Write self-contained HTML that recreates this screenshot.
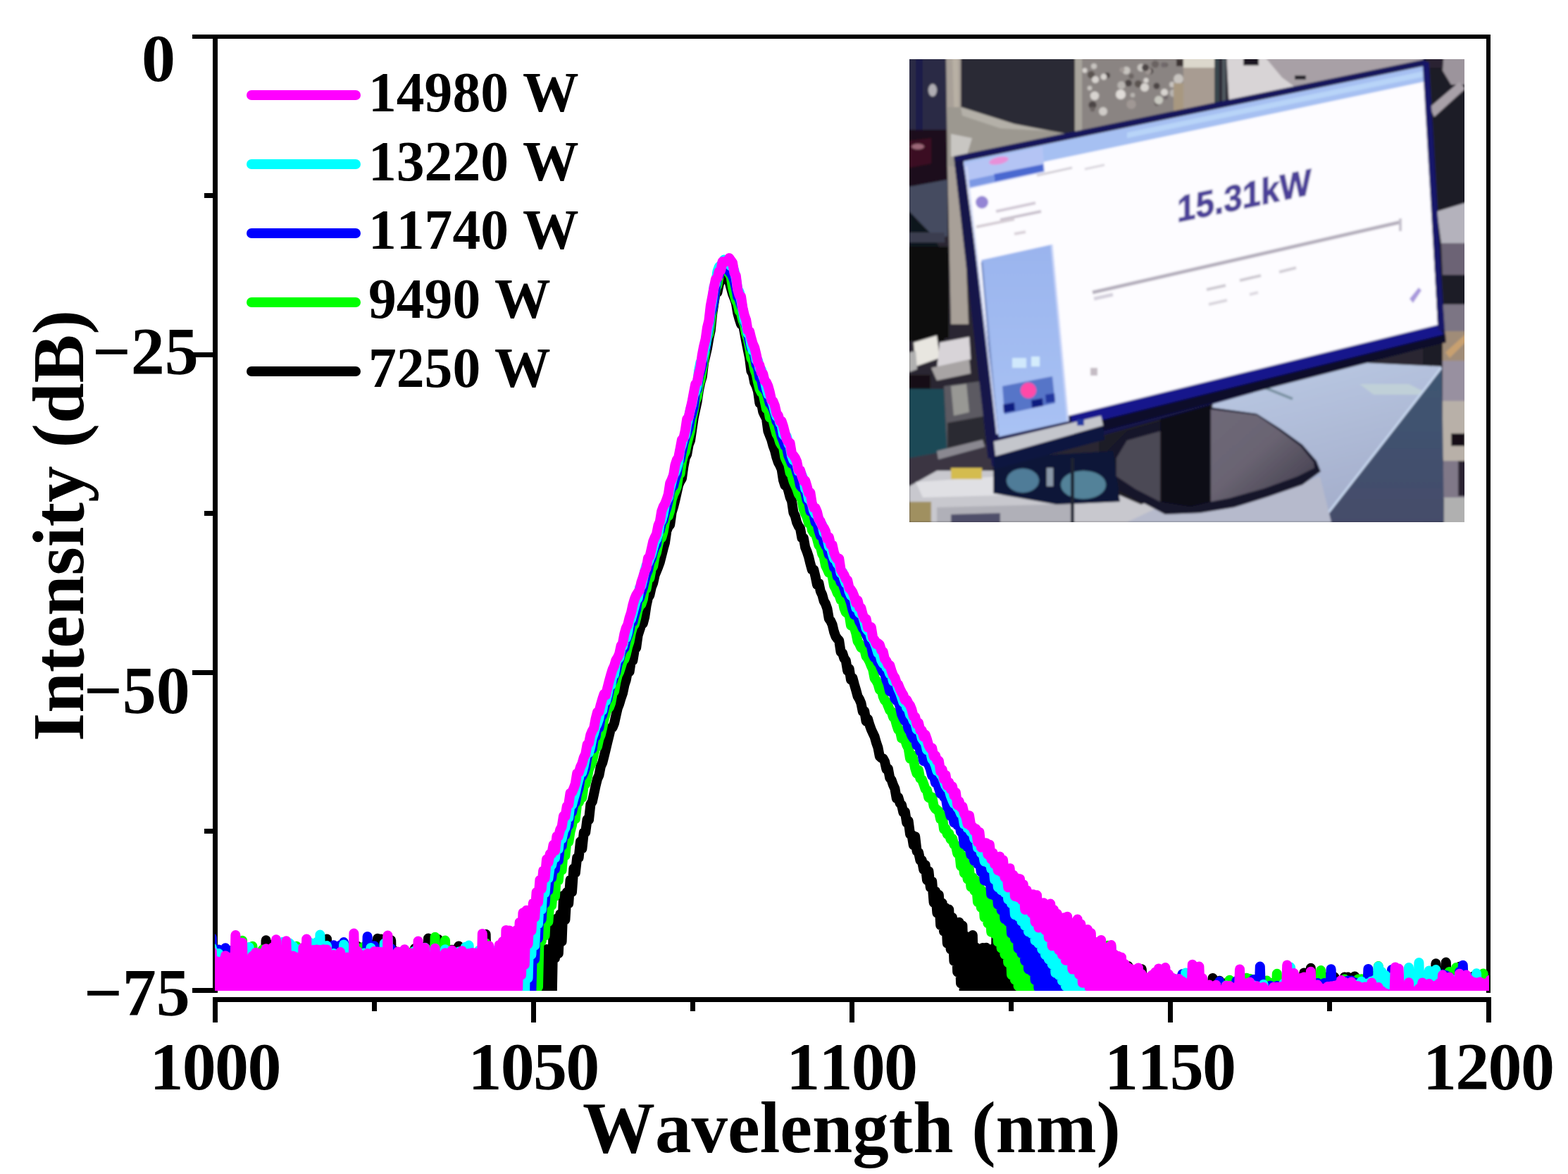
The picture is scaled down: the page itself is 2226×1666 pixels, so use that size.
<!DOCTYPE html>
<html lang="en"><head><meta charset="utf-8"><title>Spectrum</title>
<style>
html,body{margin:0;padding:0;background:#fff;}
body{width:2226px;height:1666px;overflow:hidden;}
svg{display:block;}
.t{font-family:"Liberation Serif","DejaVu Serif",serif;font-weight:bold;fill:#000;font-kerning:none;}
</style></head>
<body>
<svg width="2226" height="1666" viewBox="0 0 2226 1666">
<rect width="2226" height="1666" fill="#fff"/>
<defs>
<clipPath id="phc"><rect x="1291" y="84" width="788" height="657"/></clipPath>
<filter id="phb" x="-5%" y="-5%" width="110%" height="110%"><feGaussianBlur stdDeviation="1.6"/></filter>
<filter id="phb2" x="-20%" y="-20%" width="140%" height="140%"><feGaussianBlur stdDeviation="3"/></filter>
<linearGradient id="gbase" x1="0" y1="0" x2="1" y2="1"><stop offset="0" stop-color="#6e6878"/><stop offset="0.45" stop-color="#6a6472"/><stop offset="1" stop-color="#3e3a4a"/></linearGradient>
<linearGradient id="gtable" x1="0" y1="0" x2="0.4" y2="1"><stop offset="0" stop-color="#bccbe6"/><stop offset="1" stop-color="#a4aecb"/></linearGradient>
<linearGradient id="gside" x1="0" y1="0" x2="0" y2="1"><stop offset="0" stop-color="#3d5572"/><stop offset="1" stop-color="#454c6a"/></linearGradient>
<linearGradient id="gpanel" x1="0" y1="0" x2="0" y2="1"><stop offset="0" stop-color="#9ab4ee"/><stop offset="1" stop-color="#a9c2f4"/></linearGradient>
</defs>
<g clip-path="url(#phc)">
<g filter="url(#phb)">
<rect x="1281" y="74" width="808" height="677" fill="#2a2832"/>
<rect x="1281" y="74" width="64" height="120" fill="#2b2c44"/>
<rect x="1300" y="84" width="10" height="100" fill="#1a1d4a"/>
<rect x="1281" y="184" width="64" height="80" fill="#1c0f1c"/>
<polygon points="1291,200 1322,196 1322,232 1291,238" fill="#3a1020"/>
<ellipse cx="1303" cy="208" rx="9" ry="4" fill="#9c6878"/>
<polygon points="1291,265 1345,255 1345,335 1291,350" fill="#454c60"/>
<polygon points="1291,300 1320,330 1340,360 1291,370" fill="#10141e"/>
<rect x="1281" y="350" width="66" height="130" fill="#0a0810"/>
<rect x="1291" y="330" width="50" height="14" fill="#3a3c50"/>
<ellipse cx="1324" cy="128" rx="6" ry="9" fill="#b0aeb4"/>
<polygon points="1343,74 1364,74 1366,230 1375,460 1350,460 1345,230" fill="#a8a098"/>
<polygon points="1352,74 1360,74 1362,220 1356,220" fill="#b8b0a4"/>
<polygon points="1364,74 1526,74 1526,192 1440,176 1364,152" fill="#2c2a36"/>
<polygon points="1345,152 1364,152 1440,176 1526,192 1526,200 1358,236 1345,236" fill="#9c9890"/>
<polygon points="1350,190 1380,196 1372,222 1350,222" fill="#c8c6c2"/>
<polygon points="1364,152 1440,176 1490,186 1420,182 1366,164" fill="#b4b0a8"/>
<rect x="1526" y="74" width="200" height="140" fill="#8a8482"/>
<rect x="1526" y="74" width="10" height="120" fill="#a8a49c"/>
<circle cx="1599" cy="100" r="5.6" fill="#c8c4c0"/>
<circle cx="1689" cy="94" r="5.3" fill="#6a6462"/>
<circle cx="1547" cy="125" r="3.3" fill="#c8c4c0"/>
<circle cx="1640" cy="91" r="5.3" fill="#6a6462"/>
<circle cx="1655" cy="138" r="3.2" fill="#70686a"/>
<circle cx="1549" cy="106" r="5.2" fill="#5a5250"/>
<circle cx="1593" cy="99" r="3.5" fill="#a09894"/>
<circle cx="1642" cy="147" r="3.4" fill="#6a6462"/>
<circle cx="1608" cy="135" r="3.3" fill="#b8b4b0"/>
<circle cx="1653" cy="131" r="5.1" fill="#d8d4d0"/>
<circle cx="1606" cy="108" r="3.7" fill="#6a6462"/>
<circle cx="1555" cy="113" r="5.0" fill="#d8d4d0"/>
<circle cx="1673" cy="112" r="6.9" fill="#c8c4c0"/>
<circle cx="1633" cy="101" r="4.4" fill="#4c4444"/>
<circle cx="1554" cy="136" r="6.2" fill="#d8d4d0"/>
<circle cx="1602" cy="118" r="5.0" fill="#4c4444"/>
<circle cx="1553" cy="94" r="4.1" fill="#c8c4c0"/>
<circle cx="1551" cy="149" r="5.6" fill="#4c4444"/>
<circle cx="1592" cy="121" r="5.7" fill="#b8b4b0"/>
<circle cx="1711" cy="118" r="5.4" fill="#4c4444"/>
<circle cx="1551" cy="155" r="3.5" fill="#6a6462"/>
<circle cx="1630" cy="101" r="4.6" fill="#a09894"/>
<circle cx="1697" cy="111" r="4.7" fill="#d8d4d0"/>
<circle cx="1664" cy="120" r="3.9" fill="#c8c4c0"/>
<circle cx="1572" cy="107" r="3.9" fill="#4c4444"/>
<circle cx="1691" cy="102" r="4.1" fill="#5a5250"/>
<circle cx="1616" cy="119" r="5.3" fill="#5a5250"/>
<circle cx="1666" cy="132" r="5.5" fill="#b8b4b0"/>
<circle cx="1642" cy="122" r="4.6" fill="#4c4444"/>
<circle cx="1655" cy="92" r="3.3" fill="#6a6462"/>
<circle cx="1620" cy="96" r="5.4" fill="#c8c4c0"/>
<circle cx="1540" cy="100" r="3.4" fill="#d8d4d0"/>
<circle cx="1652" cy="92" r="3.8" fill="#70686a"/>
<circle cx="1567" cy="109" r="4.4" fill="#d8d4d0"/>
<circle cx="1626" cy="96" r="5.0" fill="#4c4444"/>
<circle cx="1627" cy="114" r="3.6" fill="#d8d4d0"/>
<circle cx="1675" cy="129" r="5.8" fill="#b8b4b0"/>
<circle cx="1606" cy="148" r="6.7" fill="#a09894"/>
<circle cx="1591" cy="134" r="7" fill="#e0dcd8"/>
<circle cx="1625" cy="124" r="6" fill="#d8d4d0"/>
<circle cx="1566" cy="158" r="6" fill="#d0ccc8"/>
<circle cx="1645" cy="142" r="6" fill="#c8c8c0"/>
<rect x="1666" y="118" width="50" height="40" fill="#a89880"/>
<rect x="1670" y="84" width="12" height="10" fill="#3a3030"/>
<rect x="1680" y="74" width="46" height="110" fill="#a89c92"/>
<rect x="1680" y="74" width="44" height="22" fill="#dcd8cc"/>
<rect x="1724" y="74" width="7" height="100" fill="#38444c"/>
<rect x="1735" y="74" width="5" height="100" fill="#50585e"/>
<polygon points="1741,74 1800,74 1850,130 1745,150" fill="#d8d4d6"/>
<polygon points="1790,74 2025,74 2025,96 1850,132 1820,110" fill="#a8a0a6"/>
<rect x="1765" y="80" width="22" height="13" fill="#1a1420"/>
<rect x="1838" y="107" width="16" height="6" fill="#20242a"/>
<rect x="2020" y="74" width="70" height="680" fill="#1e1c28"/>
<polygon points="2050,74 2090,74 2090,120 2060,120 2048,100" fill="#9c949c"/>
<polygon points="2030,152 2072,116 2080,126 2036,166" fill="#a8a0a8"/>
<rect x="2024" y="74" width="24" height="22" fill="#2a2030"/>
<polygon points="2040,300 2090,285 2090,345 2046,345" fill="#b4b2bc"/>
<polygon points="2046,345 2090,345 2090,390 2048,390" fill="#6c6474"/>
<rect x="2048" y="432" width="42" height="40" fill="#7c7484"/>
<polygon points="2048,470 2090,470 2090,512 2048,512" fill="#a08c78"/>
<polygon points="2052,500 2085,470 2090,476 2058,508" fill="#c8a070"/>
<rect x="2048" y="512" width="42" height="58" fill="#9890a0"/>
<rect x="2048" y="569" width="42" height="86" fill="#b8b0a8"/>
<rect x="2060" y="615" width="20" height="18" fill="#141018"/>
<rect x="2048" y="654" width="42" height="54" fill="#807888"/>
<rect x="2050" y="706" width="40" height="40" fill="#b0b0b0"/>
<rect x="2043" y="650" width="6" height="100" fill="#0c0a14"/>
<rect x="2070" y="654" width="12" height="50" fill="#2a2430"/>
<rect x="1281" y="474" width="60" height="10" fill="#0a0810"/>
<polygon points="1297,486 1330,476 1334,508 1300,520" fill="#e8e6e0"/>
<polygon points="1291,500 1300,498 1302,524 1291,528" fill="#b0b0b0"/>
<polygon points="1334,486 1376,478 1378,510 1330,524" fill="#d8d4d8"/>
<polygon points="1322,522 1376,510 1378,530 1330,540" fill="#a8a4a4"/>
<rect x="1281" y="532" width="40" height="20" fill="#141018"/>
<polygon points="1291,552 1340,552 1345,645 1291,655" fill="#1a4856"/>
<polygon points="1340,548 1400,540 1408,640 1345,648" fill="#5c5a62"/>
<polygon points="1350,548 1372,545 1376,585 1354,590" fill="#989894"/>
<polygon points="1345,600 1400,590 1404,640 1345,650" fill="#2c2a32"/>
<polygon points="1291,650 1410,628 1410,665 1291,690" fill="#3a3642"/>
<polygon points="1330,640 1395,624 1398,634 1332,652" fill="#8a8890"/>
<polygon points="1291,690 1330,668 1540,668 1700,700 1880,741 1291,741" fill="#c8c8ce"/>
<polygon points="1300,684 1420,676 1520,700 1310,706" fill="#e0e0e4"/>
<polygon points="1291,712 1322,712 1322,741 1291,741" fill="#a09060"/>
<polygon points="1350,664 1394,664 1394,680 1350,680" fill="#d4bc50"/>
<polygon points="1330,720 1520,715 1520,741 1330,741" fill="#b0b0b8"/>
<polygon points="1350,730 1420,728 1420,741 1350,741" fill="#50506a"/>
<polygon points="1722,572 1850,535 1940,515 2047,520 1875,741 1700,741 1700,700" fill="url(#gtable)"/>
<polygon points="1930,545 2000,545 2030,560 1950,560" fill="#c0d0d8"/>
<line x1="1790" y1="548" x2="1835" y2="566" stroke="#7890a0" stroke-width="4"/>
<polygon points="2047,520 2050,741 1875,741" fill="url(#gside)"/>
<line x1="2046" y1="522" x2="1876" y2="740" stroke="#c8d8f0" stroke-width="3"/>
<polygon points="1560,600 1660,580 1660,700 1620,716 1560,690" fill="#1c1a28"/>
<polygon points="1600,741 1640,722 1760,718 1874,676 1890,741" fill="#b6bacc"/>
<polygon points="1572,640 1600,612 1719,578 1784,587 1817,608 1849,631 1869,654 1875,669 1849,688 1800,705 1752,720 1703,728 1654,730 1605,704 1572,687" fill="#14122c"/>
<polygon points="1719,581 1784,589 1815,610 1846,633 1865,656 1866,664 1842,676 1795,693 1745,707 1719,712" fill="url(#gbase)"/>
<polygon points="1600,625 1647,612 1647,712 1612,694 1585,676 1585,650" fill="#4c4954"/>
<polygon points="1647,560 1719,560 1719,712 1690,719 1647,712" fill="#0a0814"/>
<polygon points="1410,650 1580,640 1590,712 1500,716 1410,700" fill="#0c1838"/>
<ellipse cx="1452" cy="682" rx="23" ry="17" fill="#4f7c98"/>
<ellipse cx="1538" cy="688" rx="32" ry="20" fill="#528299"/>
<rect x="1486" y="664" width="9" height="26" fill="#8a98a8"/>
<rect x="1520" y="650" width="5" height="92" fill="#1a2030"/>
<polygon points="1354,222 2024,84 2052,480 1408,662" fill="#14144e"/>
<polygon points="1520,589 2041,461 2052,480 1524,612" fill="#12128c"/>
<polygon points="1524,606 2052,474 2053,486 1526,622" fill="#0a0a2c"/>
<polygon points="1409,627 1563,590 1566,604 1411,648" fill="#c4c6cc"/>
<rect x="1529" y="595" width="10" height="9" fill="#2038a0"/>
<polygon points="1411,648 1566,604 1568,624 1412,666" fill="#0c1440"/>
<polygon points="1368,229 2021,94 2041,461 1521,589 1420,616" fill="#fdfcff"/>
<polygon points="1368,229 2021,94 2022,116 1700,184 1490,228 1376,252" fill="#a6c0f2"/>
<polygon points="1600,188 2021,101 2021,109 1700,175 1600,196" fill="#b8d4f8"/>
<polygon points="1368,232 1480,208 1483,244 1374,268" fill="#b4c4f4"/>
<polygon points="1411,247 1481,233 1482,243 1412,258" fill="#4a68d0"/>
<polygon points="1374,256 1411,248 1412,258 1376,266" fill="#7c98e4"/>
<ellipse cx="1418" cy="228" rx="14" ry="5" fill="#e890d8" transform="rotate(-12 1418 228)"/>
<circle cx="1394" cy="287" r="9" fill="#9484d4"/>
<line x1="1414" y1="300" x2="1470" y2="288" stroke="#d0c8d4" stroke-width="4"/>
<line x1="1420" y1="312" x2="1478" y2="300" stroke="#c8c0cc" stroke-width="4"/>
<line x1="1386" y1="322" x2="1440" y2="311" stroke="#d4ccd4" stroke-width="4"/>
<line x1="1440" y1="332" x2="1456" y2="329" stroke="#d8d0d8" stroke-width="4"/>
<polygon points="1393,369 1493,347 1516,598 1418,620" fill="url(#gpanel)"/>
<line x1="1493" y1="347" x2="1516" y2="598" stroke="#c8d4f8" stroke-width="3"/>
<line x1="1394" y1="372" x2="1416" y2="616" stroke="#7c94cc" stroke-width="3"/>
<rect x="1437" y="508" width="20" height="14" fill="#d0e8fc"/>
<rect x="1464" y="506" width="12" height="14" fill="#d4ecfc"/>
<polygon points="1423,548 1494,534 1498,572 1426,588" fill="#5674c8"/>
<circle cx="1460" cy="554" r="11" fill="#ff48a8"/>
<polygon points="1424,574 1440,571 1441,583 1425,586" fill="#0c1c80"/>
<polygon points="1464,568 1480,565 1481,576 1465,579" fill="#0c1c80"/>
<polygon points="1484,560 1497,558 1498,570 1485,572" fill="#2438a0"/>
<text transform="translate(1671,315.5) skewY(-11.8) scale(0.915,1)" font-family="'Liberation Sans','DejaVu Sans',sans-serif" font-size="52" font-weight="bold" fill="#3c3090" stroke="#3c3090" stroke-width="1.2" opacity="0.92">15.31kW</text>
<line x1="1472" y1="249" x2="1522" y2="238" stroke="#d0ccd4" stroke-width="3"/>
<line x1="1540" y1="240" x2="1568" y2="234" stroke="#d8d4dc" stroke-width="3"/>
<line x1="1551" y1="415" x2="1989" y2="315" stroke="#b4aebc" stroke-width="5"/>
<line x1="1988" y1="310" x2="1988" y2="328" stroke="#c4c0cc" stroke-width="4"/>
<line x1="1553" y1="424" x2="1580" y2="418" stroke="#d4d0dc" stroke-width="5"/>
<line x1="1713" y1="411" x2="1740" y2="405" stroke="#ccc8d0" stroke-width="4"/>
<line x1="1760" y1="398" x2="1790" y2="391" stroke="#ccc8d0" stroke-width="4"/>
<line x1="1816" y1="386" x2="1840" y2="380" stroke="#d0ccd4" stroke-width="4"/>
<line x1="1716" y1="432" x2="1742" y2="426" stroke="#d8d4dc" stroke-width="4"/>
<line x1="1774" y1="418" x2="1786" y2="415" stroke="#dcd8e0" stroke-width="4"/>
<polygon points="2001,424 2014,408 2018,412 2006,430" fill="#a898dc"/>
<rect x="1548" y="522" width="10" height="11" fill="#c4bcc4"/>
<line x1="1360" y1="226" x2="1408" y2="650" stroke="#12124a" stroke-width="11"/>
<line x1="1356" y1="225" x2="2023" y2="88" stroke="#14145c" stroke-width="7"/>
<line x1="2024" y1="88" x2="2046" y2="468" stroke="#16166a" stroke-width="9"/>
<line x1="1372" y1="236" x2="1416" y2="616" stroke="#d0d8f4" stroke-width="2.5"/>
</g>
</g>
<g fill="#000" shape-rendering="crispEdges">
<rect x="273" y="49" width="1843" height="6"/>
<rect x="302" y="49" width="7" height="1360"/>
<rect x="2110" y="49" width="6" height="1360"/>
<rect x="302" y="1415" width="1814" height="7"/>
<rect x="273" y="499.7" width="30" height="7"/>
<rect x="273" y="950.8" width="30" height="7"/>
<rect x="273" y="1402.0" width="30" height="7"/>
<rect x="289.5" y="274.1" width="13" height="7"/>
<rect x="289.5" y="725.2" width="13" height="7"/>
<rect x="289.5" y="1176.4" width="13" height="7"/>
<rect x="302.0" y="1415" width="7" height="35.5"/>
<rect x="753.9" y="1415" width="7" height="35.5"/>
<rect x="1205.8" y="1415" width="7" height="35.5"/>
<rect x="1657.6" y="1415" width="7" height="35.5"/>
<rect x="2109.5" y="1415" width="7" height="35.5"/>
<rect x="527.9" y="1415" width="7" height="19.5"/>
<rect x="979.8" y="1415" width="7" height="19.5"/>
<rect x="1431.7" y="1415" width="7" height="19.5"/>
<rect x="1883.6" y="1415" width="7" height="19.5"/>
</g>
<clipPath id="pc"><rect x="305" y="55" width="1809" height="1351"/></clipPath>
<g clip-path="url(#pc)" fill="none" stroke-width="14" stroke-linejoin="round" stroke-linecap="round">
<path d="M296.0,1359.1 298.4,1440.0 300.8,1356.3 303.2,1440.0 305.6,1364.7 308.0,1440.0 310.4,1364.7 312.8,1440.0 315.2,1350.4 317.6,1440.0 320.0,1362.1 322.4,1440.0 324.8,1358.5 327.2,1440.0 329.6,1358.2 332.0,1440.0 334.4,1368.1 336.8,1440.0 339.2,1366.8 341.6,1440.0 344.0,1359.8 346.4,1440.0 348.8,1357.5 351.2,1440.0 353.6,1367.3 356.0,1440.0 358.4,1365.1 360.8,1440.0 363.2,1365.2 365.6,1440.0 368.0,1361.3 370.4,1440.0 372.8,1365.2 375.2,1440.0 377.6,1334.3 380.0,1440.0 382.4,1360.9 384.8,1440.0 387.2,1340.6 389.6,1440.0 392.0,1365.3 394.4,1440.0 396.8,1357.1 399.2,1440.0 401.6,1357.0 404.0,1440.0 406.4,1368.9 408.8,1440.0 411.2,1351.0 413.6,1440.0 416.0,1352.8 418.4,1440.0 420.8,1358.0 423.2,1440.0 425.6,1361.8 428.0,1440.0 430.4,1352.7 432.8,1440.0 435.2,1349.8 437.6,1440.0 440.0,1363.1 442.4,1440.0 444.8,1343.2 447.2,1440.0 449.6,1345.6 452.0,1440.0 454.4,1349.9 456.8,1440.0 459.2,1351.7 461.6,1440.0 464.0,1332.5 466.4,1440.0 468.8,1350.8 471.2,1440.0 473.6,1358.0 476.0,1440.0 478.4,1353.9 480.8,1440.0 483.2,1350.5 485.6,1440.0 488.0,1356.6 490.4,1440.0 492.8,1359.9 495.2,1440.0 497.6,1346.2 500.0,1440.0 502.4,1348.4 504.8,1440.0 507.2,1342.4 509.6,1440.0 512.0,1354.8 514.4,1440.0 516.8,1346.1 519.2,1440.0 521.6,1351.7 524.0,1440.0 526.4,1340.0 528.8,1440.0 531.2,1343.2 533.6,1440.0 536.0,1331.8 538.4,1440.0 540.8,1332.6 543.2,1440.0 545.6,1344.5 548.0,1440.0 550.4,1345.5 552.8,1440.0 555.2,1334.3 557.6,1440.0 560.0,1349.5 562.4,1440.0 564.8,1356.8 567.2,1440.0 569.6,1358.4 572.0,1440.0 574.4,1360.3 576.8,1440.0 579.2,1358.6 581.6,1440.0 584.0,1361.5 586.4,1440.0 588.8,1346.1 591.2,1440.0 593.6,1359.7 596.0,1440.0 598.4,1354.8 600.8,1440.0 603.2,1343.3 605.6,1440.0 608.0,1331.5 610.4,1440.0 612.8,1356.4 615.2,1440.0 617.6,1351.0 620.0,1440.0 622.4,1333.1 624.8,1440.0 627.2,1361.4 629.6,1440.0 632.0,1347.0 634.4,1440.0 636.8,1350.2 639.2,1440.0 641.6,1347.8 644.0,1440.0 646.4,1355.1 648.8,1440.0 651.2,1342.5 653.6,1440.0 656.0,1351.5 658.4,1440.0 660.8,1355.4 663.2,1440.0 665.6,1356.8 668.0,1440.0 670.4,1357.9 672.8,1440.0 675.2,1367.0 677.6,1440.0 680.0,1352.3 682.4,1440.0 684.8,1356.9 687.2,1440.0 689.6,1325.7 692.0,1440.0 694.4,1351.6 696.8,1440.0 699.2,1358.0 701.6,1440.0 704.0,1354.7 706.4,1440.0 708.8,1357.4 711.2,1440.0 713.6,1357.4 716.0,1440.0 718.4,1360.9 720.8,1440.0 723.2,1358.1 725.6,1440.0 728.0,1356.7 730.4,1440.0 732.8,1354.4 735.2,1440.0 737.6,1358.6 740.0,1440.0 742.4,1364.3 744.8,1440.0 747.2,1349.7 749.6,1440.0 752.0,1351.0 754.4,1440.0 756.8,1334.5 759.2,1440.0 761.6,1336.0 764.0,1440.0 766.4,1354.0 768.8,1440.0 771.2,1354.5 773.6,1440.0 776.0,1347.0 778.4,1440.0 780.8,1349.3 783.2,1440.0 785.6,1312.3 788.0,1359.8 790.4,1303.5 792.8,1353.1 795.2,1297.2 797.6,1336.2 800.0,1270.7 802.4,1305.4 804.8,1266.1 807.2,1281.9 809.6,1248.5 812.0,1265.7 814.4,1232.2 816.8,1238.7 819.2,1217.1 821.6,1217.2 824.0,1194.1 826.4,1204.2 828.8,1181.5 831.2,1181.1 833.6,1162.7 836.0,1163.5 838.4,1141.3 840.8,1137.4 843.2,1126.4 845.6,1115.0 848.0,1105.4 850.4,1100.1 852.8,1087.7 855.2,1082.4 857.6,1073.0 860.0,1063.1 862.4,1052.8 864.8,1043.2 867.2,1033.2 869.6,1032.5 872.0,1026.4 874.4,1015.4 876.8,1004.9 879.2,998.9 881.6,990.6 884.0,983.7 886.4,972.2 888.8,964.8 891.2,951.9 893.6,953.3 896.0,937.3 898.4,937.1 900.8,922.4 903.2,919.1 905.6,901.6 908.0,894.2 910.4,887.1 912.8,884.8 915.2,875.6 917.6,859.3 920.0,848.3 922.4,844.3 924.8,833.3 927.2,827.4 929.6,816.2 932.0,810.3 934.4,804.3 936.8,797.8 939.2,788.3 941.6,778.7 944.0,770.1 946.4,753.3 948.8,747.4 951.2,744.6 953.6,727.2 956.0,719.3 958.4,709.7 960.8,698.9 963.2,688.3 965.6,682.8 968.0,678.8 970.4,661.8 972.8,649.4 975.2,644.8 977.6,631.2 980.0,625.2 982.4,609.0 984.8,592.5 987.2,581.2 989.6,570.2 992.0,553.8 994.4,542.4 996.8,534.4 999.2,514.6 1001.6,504.5 1004.0,494.2 1006.4,479.8 1008.8,468.7 1011.2,445.5 1013.6,429.4 1016.0,414.7 1018.4,415.1 1020.8,403.3 1023.2,397.6 1025.6,390.8 1028.0,393.5 1030.4,386.3 1032.8,395.4 1035.2,399.2 1037.6,408.3 1040.0,416.8 1042.4,422.8 1044.8,429.7 1047.2,444.1 1049.6,452.8 1052.0,460.2 1054.4,458.3 1056.8,470.9 1059.2,483.9 1061.6,495.9 1064.0,507.4 1066.4,526.5 1068.8,530.5 1071.2,542.7 1073.6,547.5 1076.0,555.0 1078.4,572.1 1080.8,571.5 1083.2,584.3 1085.6,589.4 1088.0,594.1 1090.4,611.8 1092.8,618.0 1095.2,624.0 1097.6,632.9 1100.0,639.4 1102.4,649.0 1104.8,656.1 1107.2,660.4 1109.6,665.8 1112.0,681.4 1114.4,688.8 1116.8,688.4 1119.2,696.3 1121.6,705.5 1124.0,710.8 1126.4,727.3 1128.8,732.1 1131.2,741.4 1133.6,746.6 1136.0,749.7 1138.4,763.2 1140.8,763.6 1143.2,776.9 1145.6,782.7 1148.0,790.0 1150.4,799.9 1152.8,808.5 1155.2,808.2 1157.6,818.2 1160.0,829.9 1162.4,827.5 1164.8,838.9 1167.2,843.8 1169.6,852.8 1172.0,856.9 1174.4,863.8 1176.8,877.8 1179.2,881.1 1181.6,886.4 1184.0,896.5 1186.4,903.1 1188.8,906.5 1191.2,909.1 1193.6,925.1 1196.0,926.7 1198.4,934.3 1200.8,937.5 1203.2,951.9 1205.6,948.9 1208.0,964.6 1210.4,962.1 1212.8,971.1 1215.2,979.3 1217.6,988.2 1220.0,992.1 1222.4,997.7 1224.8,1009.8 1227.2,1009.1 1229.6,1023.5 1232.0,1020.3 1234.4,1028.4 1236.8,1035.1 1239.2,1040.4 1241.6,1045.3 1244.0,1053.9 1246.4,1060.8 1248.8,1073.3 1251.2,1075.4 1253.6,1076.3 1256.0,1080.8 1258.4,1091.6 1260.8,1090.8 1263.2,1103.7 1265.6,1107.0 1268.0,1113.8 1270.4,1119.2 1272.8,1133.0 1275.2,1131.4 1277.6,1139.7 1280.0,1142.3 1282.4,1152.9 1284.8,1151.9 1287.2,1167.5 1289.6,1164.9 1292.0,1183.5 1294.4,1184.5 1296.8,1199.3 1299.2,1187.1 1301.6,1208.0 1304.0,1209.6 1306.4,1220.7 1308.8,1221.0 1311.2,1234.1 1313.6,1227.3 1316.0,1249.1 1318.4,1236.3 1320.8,1259.4 1323.2,1250.7 1325.6,1280.8 1328.0,1264.8 1330.4,1295.7 1332.8,1269.8 1335.2,1313.1 1337.6,1281.4 1340.0,1321.8 1342.4,1288.2 1344.8,1338.7 1347.2,1290.6 1349.6,1347.0 1352.0,1302.0 1354.4,1363.9 1356.8,1309.6 1359.2,1379.5 1361.6,1308.8 1364.0,1395.5 1366.4,1313.5 1368.8,1412.3 1371.2,1328.8 1373.6,1420.2 1376.0,1329.5 1378.4,1439.9 1380.8,1327.0 1383.2,1440.0 1385.6,1344.6 1388.0,1440.0 1390.4,1352.2 1392.8,1440.0 1395.2,1344.9 1397.6,1440.0 1400.0,1344.7 1402.4,1440.0 1404.8,1354.0 1407.2,1440.0 1409.6,1346.2 1412.0,1440.0 1414.4,1328.1 1416.8,1440.0 1419.2,1363.9 1421.6,1440.0 1424.0,1332.6 1426.4,1440.0 1428.8,1321.9 1431.2,1440.0 1433.6,1360.0 1436.0,1440.0 1438.4,1364.9 1440.8,1440.0 1443.2,1359.9 1445.6,1440.0 1448.0,1357.6 1450.4,1440.0 1452.8,1360.0 1455.2,1440.0 1457.6,1367.6 1460.0,1440.0 1462.4,1351.3 1464.8,1440.0 1467.2,1359.8 1469.6,1440.0 1472.0,1355.8 1474.4,1440.0 1476.8,1346.7 1479.2,1440.0 1481.6,1325.6 1484.0,1440.0 1486.4,1352.3 1488.8,1440.0 1491.2,1355.9 1493.6,1440.0 1496.0,1345.8 1498.4,1440.0 1500.8,1353.4 1503.2,1440.0 1505.6,1365.8 1508.0,1440.0 1510.4,1362.8 1512.8,1440.0 1515.2,1361.2 1517.6,1440.0 1520.0,1334.9 1522.4,1440.0 1524.8,1374.9 1527.2,1440.0 1529.6,1351.2 1532.0,1440.0 1534.4,1362.6 1536.8,1440.0 1539.2,1340.0 1541.6,1440.0 1544.0,1366.0 1546.4,1440.0 1548.8,1357.8 1551.2,1440.0 1553.6,1357.2 1556.0,1440.0 1558.4,1358.7 1560.8,1440.0 1563.2,1360.2 1565.6,1440.0 1568.0,1370.6 1570.4,1440.0 1572.8,1377.0 1575.2,1440.0 1577.6,1371.7 1580.0,1440.0 1582.4,1355.1 1584.8,1440.0 1587.2,1388.9 1589.6,1440.0 1592.0,1381.8 1594.4,1440.0 1596.8,1383.3 1599.2,1440.0 1601.6,1370.9 1604.0,1440.0 1606.4,1401.5 1608.8,1440.0 1611.2,1389.3 1613.6,1440.0 1616.0,1399.6 1618.4,1440.0 1620.8,1375.3 1623.2,1440.0 1625.6,1389.1 1628.0,1440.0 1630.4,1398.9 1632.8,1440.0 1635.2,1388.4 1637.6,1440.0 1640.0,1392.2 1642.4,1440.0 1644.8,1387.8 1647.2,1440.0 1649.6,1398.0 1652.0,1440.0 1654.4,1399.7 1656.8,1440.0 1659.2,1407.3 1661.6,1440.0 1664.0,1406.7 1666.4,1440.0 1668.8,1407.4 1671.2,1440.0 1673.6,1405.7 1676.0,1440.0 1678.4,1404.6 1680.8,1440.0 1683.2,1401.8 1685.6,1440.0 1688.0,1400.8 1690.4,1440.0 1692.8,1393.0 1695.2,1440.0 1697.6,1395.9 1700.0,1440.0 1702.4,1395.9 1704.8,1440.0 1707.2,1391.7 1709.6,1440.0 1712.0,1397.4 1714.4,1440.0 1716.8,1401.2 1719.2,1440.0 1721.6,1388.0 1724.0,1440.0 1726.4,1392.5 1728.8,1440.0 1731.2,1391.8 1733.6,1440.0 1736.0,1405.3 1738.4,1440.0 1740.8,1395.0 1743.2,1440.0 1745.6,1409.6 1748.0,1440.0 1750.4,1398.5 1752.8,1440.0 1755.2,1414.5 1757.6,1440.0 1760.0,1384.4 1762.4,1440.0 1764.8,1392.0 1767.2,1440.0 1769.6,1395.3 1772.0,1440.0 1774.4,1398.2 1776.8,1440.0 1779.2,1402.3 1781.6,1440.0 1784.0,1411.8 1786.4,1440.0 1788.8,1398.9 1791.2,1440.0 1793.6,1392.4 1796.0,1440.0 1798.4,1407.4 1800.8,1440.0 1803.2,1408.1 1805.6,1440.0 1808.0,1408.6 1810.4,1440.0 1812.8,1399.7 1815.2,1440.0 1817.6,1409.9 1820.0,1440.0 1822.4,1410.7 1824.8,1440.0 1827.2,1405.1 1829.6,1440.0 1832.0,1414.2 1834.4,1440.0 1836.8,1409.9 1839.2,1440.0 1841.6,1407.9 1844.0,1440.0 1846.4,1403.8 1848.8,1440.0 1851.2,1380.5 1853.6,1440.0 1856.0,1391.8 1858.4,1440.0 1860.8,1373.8 1863.2,1440.0 1865.6,1398.5 1868.0,1440.0 1870.4,1400.0 1872.8,1440.0 1875.2,1394.3 1877.6,1440.0 1880.0,1386.4 1882.4,1440.0 1884.8,1393.9 1887.2,1440.0 1889.6,1400.2 1892.0,1440.0 1894.4,1386.4 1896.8,1440.0 1899.2,1395.0 1901.6,1440.0 1904.0,1396.0 1906.4,1440.0 1908.8,1386.4 1911.2,1440.0 1913.6,1386.6 1916.0,1440.0 1918.4,1394.8 1920.8,1440.0 1923.2,1385.5 1925.6,1440.0 1928.0,1396.4 1930.4,1440.0 1932.8,1410.8 1935.2,1440.0 1937.6,1390.3 1940.0,1440.0 1942.4,1400.3 1944.8,1440.0 1947.2,1400.2 1949.6,1440.0 1952.0,1390.4 1954.4,1440.0 1956.8,1401.9 1959.2,1440.0 1961.6,1397.6 1964.0,1440.0 1966.4,1408.8 1968.8,1440.0 1971.2,1400.2 1973.6,1440.0 1976.0,1395.3 1978.4,1440.0 1980.8,1397.1 1983.2,1440.0 1985.6,1388.2 1988.0,1440.0 1990.4,1394.9 1992.8,1440.0 1995.2,1398.0 1997.6,1440.0 2000.0,1400.3 2002.4,1440.0 2004.8,1405.4 2007.2,1440.0 2009.6,1409.6 2012.0,1440.0 2014.4,1407.0 2016.8,1440.0 2019.2,1399.0 2021.6,1440.0 2024.0,1410.9 2026.4,1440.0 2028.8,1404.7 2031.2,1440.0 2033.6,1405.0 2036.0,1440.0 2038.4,1367.3 2040.8,1440.0 2043.2,1397.3 2045.6,1440.0 2048.0,1408.9 2050.4,1440.0 2052.8,1365.6 2055.2,1440.0 2057.6,1398.9 2060.0,1440.0 2062.4,1390.9 2064.8,1440.0 2067.2,1400.3 2069.6,1440.0 2072.0,1371.8 2074.4,1440.0 2076.8,1394.8 2079.2,1440.0 2081.6,1399.4 2084.0,1440.0 2086.4,1409.2 2088.8,1440.0 2091.2,1385.8 2093.6,1440.0 2096.0,1404.8 2098.4,1440.0 2100.8,1394.3 2103.2,1440.0 2105.6,1396.9 2108.0,1440.0 2110.4,1398.3 2112.8,1440.0 2115.2,1400.1 2117.6,1440.0 2120.0,1397.2 2122.4,1440.0" stroke="#000000"/>
<path d="M296.0,1355.5 298.4,1440.0 300.8,1344.3 303.2,1440.0 305.6,1363.4 308.0,1440.0 310.4,1359.4 312.8,1440.0 315.2,1362.7 317.6,1440.0 320.0,1353.3 322.4,1440.0 324.8,1366.1 327.2,1440.0 329.6,1360.7 332.0,1440.0 334.4,1370.0 336.8,1440.0 339.2,1359.7 341.6,1440.0 344.0,1334.8 346.4,1440.0 348.8,1359.5 351.2,1440.0 353.6,1361.9 356.0,1440.0 358.4,1342.8 360.8,1440.0 363.2,1360.2 365.6,1440.0 368.0,1355.6 370.4,1440.0 372.8,1347.5 375.2,1440.0 377.6,1358.1 380.0,1440.0 382.4,1365.3 384.8,1440.0 387.2,1361.3 389.6,1440.0 392.0,1352.9 394.4,1440.0 396.8,1341.2 399.2,1440.0 401.6,1345.7 404.0,1440.0 406.4,1337.8 408.8,1440.0 411.2,1356.8 413.6,1440.0 416.0,1352.3 418.4,1440.0 420.8,1342.8 423.2,1440.0 425.6,1349.3 428.0,1440.0 430.4,1348.5 432.8,1440.0 435.2,1355.4 437.6,1440.0 440.0,1362.7 442.4,1440.0 444.8,1351.4 447.2,1440.0 449.6,1361.4 452.0,1440.0 454.4,1365.7 456.8,1440.0 459.2,1348.2 461.6,1440.0 464.0,1351.3 466.4,1440.0 468.8,1356.9 471.2,1440.0 473.6,1345.8 476.0,1440.0 478.4,1356.7 480.8,1440.0 483.2,1364.3 485.6,1440.0 488.0,1360.7 490.4,1440.0 492.8,1354.3 495.2,1440.0 497.6,1346.5 500.0,1440.0 502.4,1356.4 504.8,1440.0 507.2,1344.7 509.6,1440.0 512.0,1350.3 514.4,1440.0 516.8,1343.2 519.2,1440.0 521.6,1353.6 524.0,1440.0 526.4,1351.9 528.8,1440.0 531.2,1353.0 533.6,1440.0 536.0,1353.4 538.4,1440.0 540.8,1355.1 543.2,1440.0 545.6,1356.7 548.0,1440.0 550.4,1330.6 552.8,1440.0 555.2,1355.4 557.6,1440.0 560.0,1361.7 562.4,1440.0 564.8,1362.1 567.2,1440.0 569.6,1363.0 572.0,1440.0 574.4,1360.5 576.8,1440.0 579.2,1357.5 581.6,1440.0 584.0,1351.3 586.4,1440.0 588.8,1355.5 591.2,1440.0 593.6,1342.8 596.0,1440.0 598.4,1359.4 600.8,1440.0 603.2,1348.9 605.6,1440.0 608.0,1354.8 610.4,1440.0 612.8,1347.6 615.2,1440.0 617.6,1329.7 620.0,1440.0 622.4,1357.6 624.8,1440.0 627.2,1354.7 629.6,1440.0 632.0,1334.6 634.4,1440.0 636.8,1362.0 639.2,1440.0 641.6,1352.7 644.0,1440.0 646.4,1366.9 648.8,1440.0 651.2,1360.8 653.6,1440.0 656.0,1370.6 658.4,1440.0 660.8,1364.4 663.2,1440.0 665.6,1357.6 668.0,1440.0 670.4,1369.4 672.8,1440.0 675.2,1371.0 677.6,1440.0 680.0,1356.8 682.4,1440.0 684.8,1360.8 687.2,1440.0 689.6,1338.4 692.0,1440.0 694.4,1362.8 696.8,1440.0 699.2,1354.9 701.6,1440.0 704.0,1352.4 706.4,1440.0 708.8,1353.1 711.2,1440.0 713.6,1363.6 716.0,1440.0 718.4,1345.1 720.8,1440.0 723.2,1359.3 725.6,1440.0 728.0,1349.7 730.4,1440.0 732.8,1366.0 735.2,1440.0 737.6,1351.1 740.0,1440.0 742.4,1357.3 744.8,1440.0 747.2,1361.6 749.6,1440.0 752.0,1331.8 754.4,1440.0 756.8,1365.7 759.2,1440.0 761.6,1361.7 764.0,1400.7 766.4,1292.4 768.8,1335.7 771.2,1286.5 773.6,1327.8 776.0,1278.5 778.4,1308.1 780.8,1274.5 783.2,1285.0 785.6,1258.0 788.0,1271.7 790.4,1236.8 792.8,1249.3 795.2,1222.1 797.6,1234.7 800.0,1206.4 802.4,1214.2 804.8,1190.3 807.2,1194.8 809.6,1180.0 812.0,1170.9 814.4,1157.0 816.8,1162.2 819.2,1140.3 821.6,1138.9 824.0,1133.6 826.4,1132.0 828.8,1114.4 831.2,1113.1 833.6,1103.8 836.0,1091.5 838.4,1086.3 840.8,1080.2 843.2,1069.0 845.6,1060.8 848.0,1059.4 850.4,1048.5 852.8,1042.8 855.2,1032.7 857.6,1020.7 860.0,1012.6 862.4,1005.1 864.8,1004.0 867.2,997.6 869.6,984.2 872.0,981.0 874.4,967.9 876.8,958.3 879.2,953.6 881.6,946.1 884.0,938.2 886.4,935.7 888.8,928.3 891.2,917.7 893.6,910.5 896.0,897.8 898.4,889.4 900.8,886.1 903.2,877.0 905.6,865.5 908.0,859.7 910.4,857.7 912.8,850.3 915.2,835.9 917.6,835.3 920.0,821.6 922.4,820.4 924.8,807.4 927.2,803.6 929.6,790.2 932.0,784.1 934.4,772.6 936.8,764.4 939.2,763.2 941.6,754.7 944.0,740.6 946.4,731.7 948.8,732.4 951.2,724.7 953.6,709.3 956.0,701.9 958.4,697.0 960.8,690.7 963.2,675.4 965.6,672.2 968.0,655.3 970.4,646.1 972.8,641.0 975.2,629.8 977.6,620.5 980.0,611.5 982.4,593.7 984.8,582.8 987.2,569.4 989.6,563.6 992.0,547.2 994.4,539.3 996.8,525.0 999.2,511.0 1001.6,495.5 1004.0,479.8 1006.4,473.9 1008.8,457.1 1011.2,439.6 1013.6,426.5 1016.0,409.9 1018.4,404.6 1020.8,391.3 1023.2,382.9 1025.6,377.9 1028.0,381.4 1030.4,379.0 1032.8,385.4 1035.2,388.3 1037.6,392.9 1040.0,407.6 1042.4,417.9 1044.8,426.2 1047.2,431.0 1049.6,441.3 1052.0,444.3 1054.4,454.4 1056.8,460.8 1059.2,473.6 1061.6,481.1 1064.0,492.9 1066.4,508.1 1068.8,512.2 1071.2,524.5 1073.6,530.7 1076.0,542.2 1078.4,552.0 1080.8,556.8 1083.2,557.9 1085.6,568.9 1088.0,580.2 1090.4,578.0 1092.8,592.5 1095.2,591.7 1097.6,597.2 1100.0,606.8 1102.4,615.7 1104.8,619.8 1107.2,627.8 1109.6,631.8 1112.0,634.6 1114.4,648.9 1116.8,654.3 1119.2,659.1 1121.6,670.9 1124.0,674.2 1126.4,683.0 1128.8,688.2 1131.2,693.5 1133.6,700.8 1136.0,704.1 1138.4,709.2 1140.8,722.8 1143.2,728.9 1145.6,734.1 1148.0,742.4 1150.4,738.2 1152.8,752.2 1155.2,756.2 1157.6,757.2 1160.0,764.7 1162.4,773.8 1164.8,776.0 1167.2,785.9 1169.6,790.2 1172.0,802.4 1174.4,807.4 1176.8,812.8 1179.2,811.2 1181.6,817.7 1184.0,831.1 1186.4,835.2 1188.8,841.6 1191.2,844.1 1193.6,851.4 1196.0,851.3 1198.4,862.9 1200.8,868.7 1203.2,870.6 1205.6,872.5 1208.0,887.7 1210.4,887.2 1212.8,890.7 1215.2,898.3 1217.6,910.1 1220.0,913.6 1222.4,919.0 1224.8,918.2 1227.2,921.6 1229.6,931.4 1232.0,934.1 1234.4,938.6 1236.8,944.7 1239.2,949.9 1241.6,962.5 1244.0,965.7 1246.4,970.4 1248.8,978.8 1251.2,975.1 1253.6,988.3 1256.0,993.8 1258.4,996.1 1260.8,1001.8 1263.2,1007.8 1265.6,1009.6 1268.0,1017.6 1270.4,1019.2 1272.8,1028.3 1275.2,1035.5 1277.6,1036.4 1280.0,1047.6 1282.4,1048.2 1284.8,1049.9 1287.2,1057.1 1289.6,1061.7 1292.0,1076.5 1294.4,1071.1 1296.8,1078.9 1299.2,1090.4 1301.6,1097.9 1304.0,1092.9 1306.4,1105.0 1308.8,1106.1 1311.2,1112.4 1313.6,1119.6 1316.0,1121.4 1318.4,1131.9 1320.8,1133.0 1323.2,1131.2 1325.6,1143.7 1328.0,1147.8 1330.4,1149.3 1332.8,1151.3 1335.2,1162.4 1337.6,1157.6 1340.0,1176.7 1342.4,1175.7 1344.8,1183.8 1347.2,1182.8 1349.6,1191.2 1352.0,1189.9 1354.4,1198.4 1356.8,1199.7 1359.2,1211.1 1361.6,1204.9 1364.0,1229.1 1366.4,1214.9 1368.8,1239.0 1371.2,1224.8 1373.6,1247.5 1376.0,1233.2 1378.4,1258.5 1380.8,1245.2 1383.2,1263.9 1385.6,1249.7 1388.0,1280.3 1390.4,1255.2 1392.8,1288.0 1395.2,1264.8 1397.6,1302.0 1400.0,1269.6 1402.4,1310.3 1404.8,1280.9 1407.2,1322.7 1409.6,1282.4 1412.0,1325.4 1414.4,1282.6 1416.8,1336.6 1419.2,1289.1 1421.6,1345.6 1424.0,1304.7 1426.4,1354.5 1428.8,1310.8 1431.2,1366.2 1433.6,1311.6 1436.0,1383.3 1438.4,1308.3 1440.8,1390.3 1443.2,1319.4 1445.6,1399.5 1448.0,1324.1 1450.4,1403.5 1452.8,1336.5 1455.2,1416.3 1457.6,1317.7 1460.0,1424.5 1462.4,1334.1 1464.8,1435.7 1467.2,1339.4 1469.6,1440.0 1472.0,1341.0 1474.4,1440.0 1476.8,1345.1 1479.2,1440.0 1481.6,1314.4 1484.0,1440.0 1486.4,1346.5 1488.8,1440.0 1491.2,1340.0 1493.6,1440.0 1496.0,1346.4 1498.4,1440.0 1500.8,1347.2 1503.2,1440.0 1505.6,1350.1 1508.0,1440.0 1510.4,1329.2 1512.8,1440.0 1515.2,1347.9 1517.6,1440.0 1520.0,1351.1 1522.4,1440.0 1524.8,1326.8 1527.2,1440.0 1529.6,1352.5 1532.0,1440.0 1534.4,1362.5 1536.8,1440.0 1539.2,1352.9 1541.6,1440.0 1544.0,1360.8 1546.4,1440.0 1548.8,1355.9 1551.2,1440.0 1553.6,1357.5 1556.0,1440.0 1558.4,1364.5 1560.8,1440.0 1563.2,1337.3 1565.6,1440.0 1568.0,1356.9 1570.4,1440.0 1572.8,1341.8 1575.2,1440.0 1577.6,1374.7 1580.0,1440.0 1582.4,1367.8 1584.8,1440.0 1587.2,1384.3 1589.6,1440.0 1592.0,1381.6 1594.4,1440.0 1596.8,1393.9 1599.2,1440.0 1601.6,1392.9 1604.0,1440.0 1606.4,1388.8 1608.8,1440.0 1611.2,1407.7 1613.6,1440.0 1616.0,1393.5 1618.4,1440.0 1620.8,1401.3 1623.2,1440.0 1625.6,1413.0 1628.0,1440.0 1630.4,1411.9 1632.8,1440.0 1635.2,1415.7 1637.6,1440.0 1640.0,1404.4 1642.4,1440.0 1644.8,1405.7 1647.2,1440.0 1649.6,1416.3 1652.0,1440.0 1654.4,1409.2 1656.8,1440.0 1659.2,1414.3 1661.6,1440.0 1664.0,1404.7 1666.4,1440.0 1668.8,1402.9 1671.2,1440.0 1673.6,1403.5 1676.0,1440.0 1678.4,1406.5 1680.8,1440.0 1683.2,1403.6 1685.6,1440.0 1688.0,1411.1 1690.4,1440.0 1692.8,1409.4 1695.2,1440.0 1697.6,1402.3 1700.0,1440.0 1702.4,1392.2 1704.8,1440.0 1707.2,1402.2 1709.6,1440.0 1712.0,1406.2 1714.4,1440.0 1716.8,1399.5 1719.2,1440.0 1721.6,1403.3 1724.0,1440.0 1726.4,1407.1 1728.8,1440.0 1731.2,1412.5 1733.6,1440.0 1736.0,1401.6 1738.4,1440.0 1740.8,1406.6 1743.2,1440.0 1745.6,1390.7 1748.0,1440.0 1750.4,1397.0 1752.8,1440.0 1755.2,1394.1 1757.6,1440.0 1760.0,1389.4 1762.4,1440.0 1764.8,1404.1 1767.2,1440.0 1769.6,1387.7 1772.0,1440.0 1774.4,1388.9 1776.8,1440.0 1779.2,1389.9 1781.6,1440.0 1784.0,1394.6 1786.4,1440.0 1788.8,1395.3 1791.2,1440.0 1793.6,1400.2 1796.0,1440.0 1798.4,1391.4 1800.8,1440.0 1803.2,1394.8 1805.6,1440.0 1808.0,1405.6 1810.4,1440.0 1812.8,1381.8 1815.2,1440.0 1817.6,1399.9 1820.0,1440.0 1822.4,1397.6 1824.8,1440.0 1827.2,1400.0 1829.6,1440.0 1832.0,1410.0 1834.4,1440.0 1836.8,1413.7 1839.2,1440.0 1841.6,1413.3 1844.0,1440.0 1846.4,1410.6 1848.8,1440.0 1851.2,1404.7 1853.6,1440.0 1856.0,1409.1 1858.4,1440.0 1860.8,1400.1 1863.2,1440.0 1865.6,1406.1 1868.0,1440.0 1870.4,1402.8 1872.8,1440.0 1875.2,1377.1 1877.6,1440.0 1880.0,1402.0 1882.4,1440.0 1884.8,1397.2 1887.2,1440.0 1889.6,1402.2 1892.0,1440.0 1894.4,1401.2 1896.8,1440.0 1899.2,1402.6 1901.6,1440.0 1904.0,1399.8 1906.4,1440.0 1908.8,1389.6 1911.2,1440.0 1913.6,1396.3 1916.0,1440.0 1918.4,1399.2 1920.8,1440.0 1923.2,1397.3 1925.6,1440.0 1928.0,1389.4 1930.4,1440.0 1932.8,1389.2 1935.2,1440.0 1937.6,1395.9 1940.0,1440.0 1942.4,1382.3 1944.8,1440.0 1947.2,1384.7 1949.6,1440.0 1952.0,1396.2 1954.4,1440.0 1956.8,1371.1 1959.2,1440.0 1961.6,1403.8 1964.0,1440.0 1966.4,1396.4 1968.8,1440.0 1971.2,1393.3 1973.6,1440.0 1976.0,1393.0 1978.4,1440.0 1980.8,1399.5 1983.2,1440.0 1985.6,1410.5 1988.0,1440.0 1990.4,1397.2 1992.8,1440.0 1995.2,1398.7 1997.6,1440.0 2000.0,1390.6 2002.4,1440.0 2004.8,1405.7 2007.2,1440.0 2009.6,1401.8 2012.0,1440.0 2014.4,1407.7 2016.8,1440.0 2019.2,1402.9 2021.6,1440.0 2024.0,1394.2 2026.4,1440.0 2028.8,1406.1 2031.2,1440.0 2033.6,1401.2 2036.0,1440.0 2038.4,1396.8 2040.8,1440.0 2043.2,1401.3 2045.6,1440.0 2048.0,1408.5 2050.4,1440.0 2052.8,1402.2 2055.2,1440.0 2057.6,1378.9 2060.0,1440.0 2062.4,1393.6 2064.8,1440.0 2067.2,1373.0 2069.6,1440.0 2072.0,1409.4 2074.4,1440.0 2076.8,1396.1 2079.2,1440.0 2081.6,1409.9 2084.0,1440.0 2086.4,1405.2 2088.8,1440.0 2091.2,1404.4 2093.6,1440.0 2096.0,1408.1 2098.4,1440.0 2100.8,1405.7 2103.2,1440.0 2105.6,1381.6 2108.0,1440.0 2110.4,1393.6 2112.8,1440.0 2115.2,1404.0 2117.6,1440.0 2120.0,1403.5 2122.4,1440.0" stroke="#00ff00"/>
<path d="M296.0,1362.7 298.4,1440.0 300.8,1330.8 303.2,1440.0 305.6,1364.3 308.0,1440.0 310.4,1347.4 312.8,1440.0 315.2,1356.0 317.6,1440.0 320.0,1345.3 322.4,1440.0 324.8,1348.8 327.2,1440.0 329.6,1351.1 332.0,1440.0 334.4,1343.6 336.8,1440.0 339.2,1350.0 341.6,1440.0 344.0,1356.7 346.4,1440.0 348.8,1360.0 351.2,1440.0 353.6,1356.9 356.0,1440.0 358.4,1365.5 360.8,1440.0 363.2,1357.0 365.6,1440.0 368.0,1353.5 370.4,1440.0 372.8,1354.5 375.2,1440.0 377.6,1365.1 380.0,1440.0 382.4,1359.0 384.8,1440.0 387.2,1362.7 389.6,1440.0 392.0,1354.7 394.4,1440.0 396.8,1354.8 399.2,1440.0 401.6,1347.0 404.0,1440.0 406.4,1352.0 408.8,1440.0 411.2,1349.6 413.6,1440.0 416.0,1361.5 418.4,1440.0 420.8,1347.8 423.2,1440.0 425.6,1354.1 428.0,1440.0 430.4,1353.2 432.8,1440.0 435.2,1358.6 437.6,1440.0 440.0,1357.2 442.4,1440.0 444.8,1343.5 447.2,1440.0 449.6,1358.0 452.0,1440.0 454.4,1343.0 456.8,1440.0 459.2,1350.6 461.6,1440.0 464.0,1348.0 466.4,1440.0 468.8,1348.0 471.2,1440.0 473.6,1341.3 476.0,1440.0 478.4,1361.2 480.8,1440.0 483.2,1341.2 485.6,1440.0 488.0,1337.1 490.4,1440.0 492.8,1357.3 495.2,1440.0 497.6,1349.9 500.0,1440.0 502.4,1342.5 504.8,1440.0 507.2,1353.7 509.6,1440.0 512.0,1357.8 514.4,1440.0 516.8,1352.3 519.2,1440.0 521.6,1329.0 524.0,1440.0 526.4,1345.4 528.8,1440.0 531.2,1342.2 533.6,1440.0 536.0,1351.0 538.4,1440.0 540.8,1357.9 543.2,1440.0 545.6,1360.6 548.0,1440.0 550.4,1365.4 552.8,1440.0 555.2,1346.0 557.6,1440.0 560.0,1352.6 562.4,1440.0 564.8,1357.5 567.2,1440.0 569.6,1358.8 572.0,1440.0 574.4,1359.8 576.8,1440.0 579.2,1355.9 581.6,1440.0 584.0,1356.8 586.4,1440.0 588.8,1354.4 591.2,1440.0 593.6,1355.4 596.0,1440.0 598.4,1368.7 600.8,1440.0 603.2,1364.5 605.6,1440.0 608.0,1362.5 610.4,1440.0 612.8,1357.5 615.2,1440.0 617.6,1366.7 620.0,1440.0 622.4,1367.2 624.8,1440.0 627.2,1369.1 629.6,1440.0 632.0,1359.7 634.4,1440.0 636.8,1363.1 639.2,1440.0 641.6,1373.3 644.0,1440.0 646.4,1366.1 648.8,1440.0 651.2,1360.1 653.6,1440.0 656.0,1368.2 658.4,1440.0 660.8,1369.5 663.2,1440.0 665.6,1360.4 668.0,1440.0 670.4,1359.8 672.8,1440.0 675.2,1361.8 677.6,1440.0 680.0,1358.2 682.4,1440.0 684.8,1370.2 687.2,1440.0 689.6,1356.3 692.0,1440.0 694.4,1349.3 696.8,1440.0 699.2,1354.4 701.6,1440.0 704.0,1358.4 706.4,1440.0 708.8,1354.6 711.2,1440.0 713.6,1351.6 716.0,1440.0 718.4,1364.7 720.8,1440.0 723.2,1359.6 725.6,1440.0 728.0,1358.1 730.4,1440.0 732.8,1362.1 735.2,1440.0 737.6,1350.3 740.0,1440.0 742.4,1350.0 744.8,1440.0 747.2,1347.0 749.6,1440.0 752.0,1325.0 754.4,1406.1 756.8,1309.4 759.2,1361.3 761.6,1290.0 764.0,1331.5 766.4,1270.4 768.8,1304.7 771.2,1265.1 773.6,1281.7 776.0,1251.8 778.4,1263.5 780.8,1238.0 783.2,1245.5 785.6,1226.5 788.0,1233.3 790.4,1208.8 792.8,1221.2 795.2,1199.4 797.6,1200.8 800.0,1180.8 802.4,1185.3 804.8,1174.5 807.2,1171.0 809.6,1153.5 812.0,1152.6 814.4,1141.8 816.8,1138.9 819.2,1126.1 821.6,1118.4 824.0,1103.5 826.4,1101.7 828.8,1096.4 831.2,1089.2 833.6,1074.4 836.0,1067.3 838.4,1061.8 840.8,1062.7 843.2,1047.0 845.6,1045.6 848.0,1029.1 850.4,1032.9 852.8,1018.7 855.2,1015.1 857.6,1005.7 860.0,996.2 862.4,992.0 864.8,980.9 867.2,970.6 869.6,966.6 872.0,959.1 874.4,954.1 876.8,942.4 879.2,936.1 881.6,927.3 884.0,921.9 886.4,919.7 888.8,908.4 891.2,902.2 893.6,894.3 896.0,882.1 898.4,882.6 900.8,872.6 903.2,865.0 905.6,849.0 908.0,849.1 910.4,841.1 912.8,834.1 915.2,823.8 917.6,814.9 920.0,809.3 922.4,797.8 924.8,792.9 927.2,782.9 929.6,776.6 932.0,772.3 934.4,755.2 936.8,752.6 939.2,741.7 941.6,738.2 944.0,727.6 946.4,720.5 948.8,710.6 951.2,698.2 953.6,691.7 956.0,689.8 958.4,679.4 960.8,673.1 963.2,656.2 965.6,651.8 968.0,640.6 970.4,629.1 972.8,621.1 975.2,614.5 977.6,607.3 980.0,593.9 982.4,586.4 984.8,576.9 987.2,555.6 989.6,553.0 992.0,534.2 994.4,526.7 996.8,517.5 999.2,498.9 1001.6,494.5 1004.0,477.0 1006.4,463.2 1008.8,445.6 1011.2,438.5 1013.6,425.5 1016.0,406.6 1018.4,392.8 1020.8,390.6 1023.2,376.7 1025.6,377.9 1028.0,377.4 1030.4,369.9 1032.8,375.5 1035.2,385.4 1037.6,387.8 1040.0,392.0 1042.4,398.7 1044.8,408.6 1047.2,421.1 1049.6,424.6 1052.0,433.0 1054.4,439.1 1056.8,456.1 1059.2,462.0 1061.6,473.1 1064.0,484.4 1066.4,494.0 1068.8,496.1 1071.2,504.7 1073.6,517.4 1076.0,521.6 1078.4,535.8 1080.8,538.3 1083.2,550.1 1085.6,552.5 1088.0,556.0 1090.4,563.4 1092.8,572.4 1095.2,575.3 1097.6,580.4 1100.0,587.6 1102.4,597.9 1104.8,601.2 1107.2,610.3 1109.6,619.7 1112.0,625.5 1114.4,632.7 1116.8,634.8 1119.2,646.3 1121.6,652.2 1124.0,658.0 1126.4,657.2 1128.8,662.1 1131.2,670.1 1133.6,676.9 1136.0,688.9 1138.4,691.9 1140.8,692.5 1143.2,698.6 1145.6,709.9 1148.0,712.5 1150.4,725.5 1152.8,726.8 1155.2,729.8 1157.6,741.3 1160.0,741.0 1162.4,752.7 1164.8,760.4 1167.2,757.2 1169.6,769.3 1172.0,774.1 1174.4,777.7 1176.8,787.3 1179.2,786.2 1181.6,794.4 1184.0,805.5 1186.4,805.4 1188.8,818.3 1191.2,817.5 1193.6,826.5 1196.0,827.4 1198.4,834.4 1200.8,842.0 1203.2,842.7 1205.6,848.5 1208.0,855.3 1210.4,865.4 1212.8,872.4 1215.2,870.8 1217.6,873.9 1220.0,881.8 1222.4,885.8 1224.8,891.7 1227.2,894.0 1229.6,900.3 1232.0,905.4 1234.4,913.9 1236.8,916.1 1239.2,929.0 1241.6,933.5 1244.0,934.6 1246.4,939.7 1248.8,942.7 1251.2,948.2 1253.6,953.6 1256.0,955.3 1258.4,965.0 1260.8,970.8 1263.2,981.1 1265.6,976.6 1268.0,981.2 1270.4,991.1 1272.8,994.2 1275.2,995.3 1277.6,1002.1 1280.0,1013.5 1282.4,1019.1 1284.8,1023.1 1287.2,1024.6 1289.6,1034.0 1292.0,1038.3 1294.4,1044.0 1296.8,1047.9 1299.2,1047.5 1301.6,1057.9 1304.0,1054.9 1306.4,1066.4 1308.8,1068.1 1311.2,1079.8 1313.6,1071.8 1316.0,1081.9 1318.4,1085.3 1320.8,1091.4 1323.2,1100.8 1325.6,1099.8 1328.0,1110.8 1330.4,1109.9 1332.8,1118.5 1335.2,1126.2 1337.6,1119.6 1340.0,1130.7 1342.4,1130.9 1344.8,1145.0 1347.2,1148.8 1349.6,1158.3 1352.0,1151.0 1354.4,1167.4 1356.8,1163.5 1359.2,1171.0 1361.6,1167.5 1364.0,1180.5 1366.4,1179.3 1368.8,1198.3 1371.2,1188.9 1373.6,1202.4 1376.0,1200.1 1378.4,1213.2 1380.8,1211.1 1383.2,1221.8 1385.6,1207.8 1388.0,1226.2 1390.4,1219.9 1392.8,1237.5 1395.2,1215.9 1397.6,1249.4 1400.0,1229.5 1402.4,1251.5 1404.8,1236.4 1407.2,1269.3 1409.6,1247.6 1412.0,1271.1 1414.4,1253.3 1416.8,1283.8 1419.2,1258.3 1421.6,1291.6 1424.0,1271.6 1426.4,1304.1 1428.8,1278.9 1431.2,1307.9 1433.6,1277.2 1436.0,1324.9 1438.4,1281.0 1440.8,1332.2 1443.2,1291.8 1445.6,1346.1 1448.0,1303.6 1450.4,1353.1 1452.8,1308.1 1455.2,1363.5 1457.6,1314.2 1460.0,1375.4 1462.4,1313.8 1464.8,1378.3 1467.2,1318.7 1469.6,1390.8 1472.0,1318.5 1474.4,1401.7 1476.8,1322.6 1479.2,1405.8 1481.6,1339.2 1484.0,1417.4 1486.4,1337.6 1488.8,1423.6 1491.2,1338.3 1493.6,1439.8 1496.0,1341.1 1498.4,1440.0 1500.8,1328.3 1503.2,1440.0 1505.6,1346.7 1508.0,1440.0 1510.4,1338.0 1512.8,1440.0 1515.2,1342.2 1517.6,1440.0 1520.0,1343.1 1522.4,1440.0 1524.8,1345.1 1527.2,1440.0 1529.6,1347.3 1532.0,1440.0 1534.4,1332.6 1536.8,1440.0 1539.2,1349.4 1541.6,1440.0 1544.0,1344.5 1546.4,1440.0 1548.8,1333.9 1551.2,1440.0 1553.6,1358.8 1556.0,1440.0 1558.4,1360.8 1560.8,1440.0 1563.2,1365.6 1565.6,1440.0 1568.0,1369.1 1570.4,1440.0 1572.8,1376.7 1575.2,1440.0 1577.6,1382.0 1580.0,1440.0 1582.4,1381.1 1584.8,1440.0 1587.2,1367.4 1589.6,1440.0 1592.0,1384.7 1594.4,1440.0 1596.8,1383.9 1599.2,1440.0 1601.6,1389.2 1604.0,1440.0 1606.4,1393.4 1608.8,1440.0 1611.2,1399.6 1613.6,1440.0 1616.0,1397.0 1618.4,1440.0 1620.8,1406.5 1623.2,1440.0 1625.6,1396.0 1628.0,1440.0 1630.4,1396.3 1632.8,1440.0 1635.2,1401.2 1637.6,1440.0 1640.0,1402.3 1642.4,1440.0 1644.8,1394.8 1647.2,1440.0 1649.6,1396.5 1652.0,1440.0 1654.4,1390.1 1656.8,1440.0 1659.2,1395.3 1661.6,1440.0 1664.0,1392.0 1666.4,1440.0 1668.8,1389.6 1671.2,1440.0 1673.6,1390.1 1676.0,1440.0 1678.4,1382.3 1680.8,1440.0 1683.2,1396.4 1685.6,1440.0 1688.0,1406.5 1690.4,1440.0 1692.8,1382.4 1695.2,1440.0 1697.6,1390.5 1700.0,1440.0 1702.4,1403.9 1704.8,1440.0 1707.2,1405.6 1709.6,1440.0 1712.0,1404.5 1714.4,1440.0 1716.8,1404.0 1719.2,1440.0 1721.6,1410.7 1724.0,1440.0 1726.4,1404.8 1728.8,1440.0 1731.2,1392.6 1733.6,1440.0 1736.0,1406.0 1738.4,1440.0 1740.8,1401.1 1743.2,1440.0 1745.6,1401.9 1748.0,1440.0 1750.4,1413.3 1752.8,1440.0 1755.2,1392.3 1757.6,1440.0 1760.0,1393.8 1762.4,1440.0 1764.8,1398.2 1767.2,1440.0 1769.6,1407.5 1772.0,1440.0 1774.4,1405.7 1776.8,1440.0 1779.2,1390.1 1781.6,1440.0 1784.0,1407.1 1786.4,1440.0 1788.8,1371.6 1791.2,1440.0 1793.6,1401.8 1796.0,1440.0 1798.4,1405.0 1800.8,1440.0 1803.2,1398.7 1805.6,1440.0 1808.0,1405.2 1810.4,1440.0 1812.8,1399.1 1815.2,1440.0 1817.6,1411.5 1820.0,1440.0 1822.4,1408.2 1824.8,1440.0 1827.2,1413.6 1829.6,1440.0 1832.0,1415.6 1834.4,1440.0 1836.8,1406.9 1839.2,1440.0 1841.6,1407.3 1844.0,1440.0 1846.4,1409.3 1848.8,1440.0 1851.2,1393.4 1853.6,1440.0 1856.0,1412.1 1858.4,1440.0 1860.8,1392.4 1863.2,1440.0 1865.6,1398.8 1868.0,1440.0 1870.4,1395.0 1872.8,1440.0 1875.2,1399.5 1877.6,1440.0 1880.0,1394.9 1882.4,1440.0 1884.8,1394.7 1887.2,1440.0 1889.6,1375.2 1892.0,1440.0 1894.4,1395.4 1896.8,1440.0 1899.2,1393.3 1901.6,1440.0 1904.0,1395.5 1906.4,1440.0 1908.8,1395.6 1911.2,1440.0 1913.6,1391.4 1916.0,1440.0 1918.4,1391.6 1920.8,1440.0 1923.2,1394.2 1925.6,1440.0 1928.0,1394.9 1930.4,1440.0 1932.8,1407.0 1935.2,1440.0 1937.6,1398.1 1940.0,1440.0 1942.4,1375.0 1944.8,1440.0 1947.2,1397.3 1949.6,1440.0 1952.0,1394.3 1954.4,1440.0 1956.8,1410.9 1959.2,1440.0 1961.6,1409.6 1964.0,1440.0 1966.4,1404.1 1968.8,1440.0 1971.2,1402.5 1973.6,1440.0 1976.0,1376.0 1978.4,1440.0 1980.8,1403.3 1983.2,1440.0 1985.6,1388.5 1988.0,1440.0 1990.4,1394.1 1992.8,1440.0 1995.2,1403.1 1997.6,1440.0 2000.0,1393.4 2002.4,1440.0 2004.8,1384.8 2007.2,1440.0 2009.6,1394.4 2012.0,1440.0 2014.4,1392.0 2016.8,1440.0 2019.2,1397.7 2021.6,1440.0 2024.0,1392.4 2026.4,1440.0 2028.8,1390.9 2031.2,1440.0 2033.6,1387.7 2036.0,1440.0 2038.4,1386.7 2040.8,1440.0 2043.2,1390.2 2045.6,1440.0 2048.0,1382.7 2050.4,1440.0 2052.8,1384.2 2055.2,1440.0 2057.6,1386.5 2060.0,1440.0 2062.4,1401.4 2064.8,1440.0 2067.2,1391.1 2069.6,1440.0 2072.0,1379.0 2074.4,1440.0 2076.8,1369.7 2079.2,1440.0 2081.6,1400.1 2084.0,1440.0 2086.4,1388.6 2088.8,1440.0 2091.2,1387.2 2093.6,1440.0 2096.0,1388.9 2098.4,1440.0 2100.8,1401.3 2103.2,1440.0 2105.6,1396.5 2108.0,1440.0 2110.4,1403.4 2112.8,1440.0 2115.2,1406.2 2117.6,1440.0 2120.0,1407.9 2122.4,1440.0" stroke="#0000ff"/>
<path d="M296.0,1363.5 298.4,1440.0 300.8,1344.9 303.2,1440.0 305.6,1352.6 308.0,1440.0 310.4,1353.1 312.8,1440.0 315.2,1358.8 317.6,1440.0 320.0,1358.9 322.4,1440.0 324.8,1365.9 327.2,1440.0 329.6,1367.2 332.0,1440.0 334.4,1351.0 336.8,1440.0 339.2,1362.2 341.6,1440.0 344.0,1355.6 346.4,1440.0 348.8,1360.8 351.2,1440.0 353.6,1343.9 356.0,1440.0 358.4,1353.2 360.8,1440.0 363.2,1355.1 365.6,1440.0 368.0,1356.1 370.4,1440.0 372.8,1353.9 375.2,1440.0 377.6,1355.0 380.0,1440.0 382.4,1353.9 384.8,1440.0 387.2,1353.4 389.6,1440.0 392.0,1350.3 394.4,1440.0 396.8,1357.3 399.2,1440.0 401.6,1336.7 404.0,1440.0 406.4,1352.6 408.8,1440.0 411.2,1338.6 413.6,1440.0 416.0,1342.5 418.4,1440.0 420.8,1353.3 423.2,1440.0 425.6,1347.1 428.0,1440.0 430.4,1356.6 432.8,1440.0 435.2,1353.9 437.6,1440.0 440.0,1337.8 442.4,1440.0 444.8,1341.9 447.2,1440.0 449.6,1337.1 452.0,1440.0 454.4,1326.6 456.8,1440.0 459.2,1349.9 461.6,1440.0 464.0,1342.1 466.4,1440.0 468.8,1354.3 471.2,1440.0 473.6,1353.0 476.0,1440.0 478.4,1363.1 480.8,1440.0 483.2,1355.6 485.6,1440.0 488.0,1340.4 490.4,1440.0 492.8,1350.9 495.2,1440.0 497.6,1353.0 500.0,1440.0 502.4,1355.6 504.8,1440.0 507.2,1351.6 509.6,1440.0 512.0,1357.9 514.4,1440.0 516.8,1352.4 519.2,1440.0 521.6,1354.2 524.0,1440.0 526.4,1344.9 528.8,1440.0 531.2,1359.5 533.6,1440.0 536.0,1358.4 538.4,1440.0 540.8,1355.1 543.2,1440.0 545.6,1338.8 548.0,1440.0 550.4,1331.4 552.8,1440.0 555.2,1361.3 557.6,1440.0 560.0,1358.2 562.4,1440.0 564.8,1363.4 567.2,1440.0 569.6,1354.6 572.0,1440.0 574.4,1353.6 576.8,1440.0 579.2,1357.4 581.6,1440.0 584.0,1357.1 586.4,1440.0 588.8,1349.4 591.2,1440.0 593.6,1355.1 596.0,1440.0 598.4,1345.7 600.8,1440.0 603.2,1344.7 605.6,1440.0 608.0,1364.1 610.4,1440.0 612.8,1354.8 615.2,1440.0 617.6,1345.9 620.0,1440.0 622.4,1354.8 624.8,1440.0 627.2,1356.0 629.6,1440.0 632.0,1347.2 634.4,1440.0 636.8,1351.9 639.2,1440.0 641.6,1356.4 644.0,1440.0 646.4,1361.4 648.8,1440.0 651.2,1350.5 653.6,1440.0 656.0,1352.1 658.4,1440.0 660.8,1343.7 663.2,1440.0 665.6,1341.6 668.0,1440.0 670.4,1359.7 672.8,1440.0 675.2,1360.5 677.6,1440.0 680.0,1348.7 682.4,1440.0 684.8,1353.6 687.2,1440.0 689.6,1345.3 692.0,1440.0 694.4,1357.7 696.8,1440.0 699.2,1353.3 701.6,1440.0 704.0,1349.1 706.4,1440.0 708.8,1343.9 711.2,1440.0 713.6,1357.1 716.0,1440.0 718.4,1331.7 720.8,1440.0 723.2,1337.7 725.6,1440.0 728.0,1353.7 730.4,1440.0 732.8,1346.2 735.2,1440.0 737.6,1337.8 740.0,1440.0 742.4,1326.8 744.8,1421.4 747.2,1310.0 749.6,1388.1 752.0,1307.5 754.4,1354.8 756.8,1295.8 759.2,1341.9 761.6,1292.9 764.0,1311.1 766.4,1270.0 768.8,1290.8 771.2,1252.1 773.6,1267.1 776.0,1239.8 778.4,1246.4 780.8,1229.7 783.2,1227.5 785.6,1215.4 788.0,1217.7 790.4,1193.4 792.8,1205.0 795.2,1183.8 797.6,1190.6 800.0,1179.1 802.4,1174.7 804.8,1161.3 807.2,1160.4 809.6,1140.8 812.0,1142.2 814.4,1133.2 816.8,1125.2 819.2,1114.1 821.6,1105.6 824.0,1095.9 826.4,1096.0 828.8,1086.7 831.2,1074.6 833.6,1065.6 836.0,1068.3 838.4,1059.1 840.8,1047.2 843.2,1040.5 845.6,1031.3 848.0,1026.5 850.4,1019.4 852.8,1007.9 855.2,1008.3 857.6,992.0 860.0,995.0 862.4,985.4 864.8,972.6 867.2,972.8 869.6,959.1 872.0,957.3 874.4,940.9 876.8,934.8 879.2,933.4 881.6,920.3 884.0,917.1 886.4,906.5 888.8,905.5 891.2,897.2 893.6,882.0 896.0,878.7 898.4,870.0 900.8,860.7 903.2,852.3 905.6,849.0 908.0,834.1 910.4,831.8 912.8,822.1 915.2,811.0 917.6,802.1 920.0,798.9 922.4,792.5 924.8,787.1 927.2,777.9 929.6,769.3 932.0,765.1 934.4,757.3 936.8,742.9 939.2,738.5 941.6,729.9 944.0,716.1 946.4,710.4 948.8,706.1 951.2,693.7 953.6,683.9 956.0,674.9 958.4,670.5 960.8,664.3 963.2,655.0 965.6,638.6 968.0,631.4 970.4,621.9 972.8,617.9 975.2,602.2 977.6,592.5 980.0,581.7 982.4,573.3 984.8,560.7 987.2,555.7 989.6,547.3 992.0,526.9 994.4,514.3 996.8,510.4 999.2,500.3 1001.6,489.3 1004.0,474.2 1006.4,459.5 1008.8,439.4 1011.2,426.1 1013.6,407.0 1016.0,402.4 1018.4,385.2 1020.8,378.7 1023.2,379.2 1025.6,375.1 1028.0,368.6 1030.4,370.6 1032.8,373.1 1035.2,375.4 1037.6,377.6 1040.0,377.5 1042.4,384.2 1044.8,394.7 1047.2,410.3 1049.6,414.5 1052.0,425.4 1054.4,439.0 1056.8,454.5 1059.2,459.9 1061.6,473.6 1064.0,473.0 1066.4,489.3 1068.8,498.0 1071.2,497.3 1073.6,510.9 1076.0,511.6 1078.4,522.7 1080.8,524.4 1083.2,534.0 1085.6,539.9 1088.0,551.2 1090.4,559.6 1092.8,559.7 1095.2,567.9 1097.6,573.9 1100.0,583.9 1102.4,591.1 1104.8,590.7 1107.2,600.1 1109.6,603.2 1112.0,616.4 1114.4,619.4 1116.8,619.4 1119.2,629.3 1121.6,633.7 1124.0,646.6 1126.4,652.9 1128.8,654.3 1131.2,658.2 1133.6,668.6 1136.0,668.6 1138.4,674.4 1140.8,680.1 1143.2,693.8 1145.6,695.3 1148.0,708.1 1150.4,710.2 1152.8,715.0 1155.2,724.8 1157.6,729.4 1160.0,731.4 1162.4,736.5 1164.8,741.6 1167.2,744.9 1169.6,755.8 1172.0,758.0 1174.4,764.6 1176.8,775.8 1179.2,774.9 1181.6,785.3 1184.0,792.8 1186.4,793.8 1188.8,800.4 1191.2,801.2 1193.6,813.5 1196.0,811.6 1198.4,821.6 1200.8,828.1 1203.2,828.8 1205.6,839.5 1208.0,845.0 1210.4,846.3 1212.8,850.4 1215.2,862.7 1217.6,861.8 1220.0,870.1 1222.4,869.1 1224.8,874.7 1227.2,882.4 1229.6,891.8 1232.0,895.1 1234.4,896.2 1236.8,905.3 1239.2,907.0 1241.6,912.0 1244.0,918.7 1246.4,926.7 1248.8,927.3 1251.2,937.0 1253.6,941.5 1256.0,940.4 1258.4,947.1 1260.8,949.5 1263.2,956.3 1265.6,957.0 1268.0,966.8 1270.4,965.3 1272.8,969.6 1275.2,977.3 1277.6,982.5 1280.0,989.4 1282.4,996.7 1284.8,994.4 1287.2,1004.4 1289.6,1005.9 1292.0,1014.4 1294.4,1017.1 1296.8,1023.0 1299.2,1025.6 1301.6,1035.2 1304.0,1029.6 1306.4,1038.1 1308.8,1047.9 1311.2,1051.3 1313.6,1054.2 1316.0,1064.3 1318.4,1061.4 1320.8,1066.9 1323.2,1077.5 1325.6,1080.3 1328.0,1086.0 1330.4,1094.2 1332.8,1092.8 1335.2,1098.6 1337.6,1101.7 1340.0,1108.0 1342.4,1114.6 1344.8,1118.2 1347.2,1120.6 1349.6,1129.2 1352.0,1135.2 1354.4,1140.3 1356.8,1140.0 1359.2,1145.9 1361.6,1148.7 1364.0,1154.6 1366.4,1154.9 1368.8,1169.8 1371.2,1159.6 1373.6,1175.3 1376.0,1176.2 1378.4,1180.8 1380.8,1179.4 1383.2,1190.3 1385.6,1184.4 1388.0,1203.3 1390.4,1191.0 1392.8,1210.7 1395.2,1208.7 1397.6,1222.4 1400.0,1215.6 1402.4,1224.3 1404.8,1215.1 1407.2,1233.0 1409.6,1221.7 1412.0,1248.4 1414.4,1232.9 1416.8,1259.1 1419.2,1236.0 1421.6,1263.3 1424.0,1242.6 1426.4,1266.9 1428.8,1248.5 1431.2,1276.5 1433.6,1261.0 1436.0,1282.4 1438.4,1263.0 1440.8,1298.1 1443.2,1272.6 1445.6,1300.7 1448.0,1270.1 1450.4,1307.5 1452.8,1278.0 1455.2,1313.8 1457.6,1287.8 1460.0,1322.3 1462.4,1285.6 1464.8,1325.0 1467.2,1289.6 1469.6,1334.9 1472.0,1288.8 1474.4,1339.1 1476.8,1290.6 1479.2,1347.0 1481.6,1296.7 1484.0,1355.2 1486.4,1301.6 1488.8,1361.3 1491.2,1308.1 1493.6,1368.4 1496.0,1313.0 1498.4,1380.7 1500.8,1309.9 1503.2,1383.9 1505.6,1313.8 1508.0,1392.0 1510.4,1323.1 1512.8,1399.3 1515.2,1319.3 1517.6,1401.3 1520.0,1315.2 1522.4,1412.7 1524.8,1332.1 1527.2,1421.5 1529.6,1330.7 1532.0,1429.3 1534.4,1330.3 1536.8,1430.1 1539.2,1334.3 1541.6,1435.7 1544.0,1332.9 1546.4,1440.0 1548.8,1340.8 1551.2,1440.0 1553.6,1340.0 1556.0,1440.0 1558.4,1351.3 1560.8,1440.0 1563.2,1344.9 1565.6,1440.0 1568.0,1355.4 1570.4,1440.0 1572.8,1362.3 1575.2,1440.0 1577.6,1344.3 1580.0,1440.0 1582.4,1373.1 1584.8,1440.0 1587.2,1373.7 1589.6,1440.0 1592.0,1381.1 1594.4,1440.0 1596.8,1373.9 1599.2,1440.0 1601.6,1386.2 1604.0,1440.0 1606.4,1377.0 1608.8,1440.0 1611.2,1394.4 1613.6,1440.0 1616.0,1394.6 1618.4,1440.0 1620.8,1388.7 1623.2,1440.0 1625.6,1397.7 1628.0,1440.0 1630.4,1393.2 1632.8,1440.0 1635.2,1394.3 1637.6,1440.0 1640.0,1398.6 1642.4,1440.0 1644.8,1402.9 1647.2,1440.0 1649.6,1400.7 1652.0,1440.0 1654.4,1392.3 1656.8,1440.0 1659.2,1392.9 1661.6,1440.0 1664.0,1390.2 1666.4,1440.0 1668.8,1394.6 1671.2,1440.0 1673.6,1398.4 1676.0,1440.0 1678.4,1394.8 1680.8,1440.0 1683.2,1380.6 1685.6,1440.0 1688.0,1401.1 1690.4,1440.0 1692.8,1394.0 1695.2,1440.0 1697.6,1404.1 1700.0,1440.0 1702.4,1401.2 1704.8,1440.0 1707.2,1399.1 1709.6,1440.0 1712.0,1400.3 1714.4,1440.0 1716.8,1401.2 1719.2,1440.0 1721.6,1404.1 1724.0,1440.0 1726.4,1409.1 1728.8,1440.0 1731.2,1406.6 1733.6,1440.0 1736.0,1406.8 1738.4,1440.0 1740.8,1398.6 1743.2,1440.0 1745.6,1406.3 1748.0,1440.0 1750.4,1404.7 1752.8,1440.0 1755.2,1401.2 1757.6,1440.0 1760.0,1403.5 1762.4,1440.0 1764.8,1405.0 1767.2,1440.0 1769.6,1396.3 1772.0,1440.0 1774.4,1409.6 1776.8,1440.0 1779.2,1398.3 1781.6,1440.0 1784.0,1406.5 1786.4,1440.0 1788.8,1407.3 1791.2,1440.0 1793.6,1396.9 1796.0,1440.0 1798.4,1406.6 1800.8,1440.0 1803.2,1411.5 1805.6,1440.0 1808.0,1408.4 1810.4,1440.0 1812.8,1413.3 1815.2,1440.0 1817.6,1409.0 1820.0,1440.0 1822.4,1395.4 1824.8,1440.0 1827.2,1404.2 1829.6,1440.0 1832.0,1372.6 1834.4,1440.0 1836.8,1407.3 1839.2,1440.0 1841.6,1412.3 1844.0,1440.0 1846.4,1401.9 1848.8,1440.0 1851.2,1412.3 1853.6,1440.0 1856.0,1400.1 1858.4,1440.0 1860.8,1405.1 1863.2,1440.0 1865.6,1402.9 1868.0,1440.0 1870.4,1409.7 1872.8,1440.0 1875.2,1404.9 1877.6,1440.0 1880.0,1405.7 1882.4,1440.0 1884.8,1410.2 1887.2,1440.0 1889.6,1417.9 1892.0,1440.0 1894.4,1404.0 1896.8,1440.0 1899.2,1410.8 1901.6,1440.0 1904.0,1409.4 1906.4,1440.0 1908.8,1405.8 1911.2,1440.0 1913.6,1405.8 1916.0,1440.0 1918.4,1396.2 1920.8,1440.0 1923.2,1397.3 1925.6,1440.0 1928.0,1408.9 1930.4,1440.0 1932.8,1392.7 1935.2,1440.0 1937.6,1395.7 1940.0,1440.0 1942.4,1395.3 1944.8,1440.0 1947.2,1392.4 1949.6,1440.0 1952.0,1390.5 1954.4,1440.0 1956.8,1371.4 1959.2,1440.0 1961.6,1379.1 1964.0,1440.0 1966.4,1383.8 1968.8,1440.0 1971.2,1390.9 1973.6,1440.0 1976.0,1386.8 1978.4,1440.0 1980.8,1400.8 1983.2,1440.0 1985.6,1408.5 1988.0,1440.0 1990.4,1392.1 1992.8,1440.0 1995.2,1399.1 1997.6,1440.0 2000.0,1373.0 2002.4,1440.0 2004.8,1396.4 2007.2,1440.0 2009.6,1397.8 2012.0,1440.0 2014.4,1366.0 2016.8,1440.0 2019.2,1394.9 2021.6,1440.0 2024.0,1403.3 2026.4,1440.0 2028.8,1377.5 2031.2,1440.0 2033.6,1402.8 2036.0,1440.0 2038.4,1376.1 2040.8,1440.0 2043.2,1411.0 2045.6,1440.0 2048.0,1404.2 2050.4,1440.0 2052.8,1401.6 2055.2,1440.0 2057.6,1410.2 2060.0,1440.0 2062.4,1390.2 2064.8,1440.0 2067.2,1398.3 2069.6,1440.0 2072.0,1408.0 2074.4,1440.0 2076.8,1402.8 2079.2,1440.0 2081.6,1406.9 2084.0,1440.0 2086.4,1399.2 2088.8,1440.0 2091.2,1407.2 2093.6,1440.0 2096.0,1381.3 2098.4,1440.0 2100.8,1400.4 2103.2,1440.0 2105.6,1405.6 2108.0,1440.0 2110.4,1403.0 2112.8,1440.0 2115.2,1396.3 2117.6,1440.0 2120.0,1409.2 2122.4,1440.0" stroke="#00ffff"/>
<path d="M296.0,1355.9 298.4,1440.0 300.8,1350.4 303.2,1440.0 305.6,1363.2 308.0,1440.0 310.4,1365.1 312.8,1440.0 315.2,1363.8 317.6,1440.0 320.0,1356.2 322.4,1440.0 324.8,1358.5 327.2,1440.0 329.6,1360.4 332.0,1440.0 334.4,1327.0 336.8,1440.0 339.2,1356.5 341.6,1440.0 344.0,1337.8 346.4,1440.0 348.8,1362.9 351.2,1440.0 353.6,1365.0 356.0,1440.0 358.4,1356.5 360.8,1440.0 363.2,1351.7 365.6,1440.0 368.0,1353.0 370.4,1440.0 372.8,1359.4 375.2,1440.0 377.6,1346.3 380.0,1440.0 382.4,1349.2 384.8,1440.0 387.2,1344.2 389.6,1440.0 392.0,1333.2 394.4,1440.0 396.8,1356.2 399.2,1440.0 401.6,1347.8 404.0,1440.0 406.4,1335.3 408.8,1440.0 411.2,1356.0 413.6,1440.0 416.0,1356.6 418.4,1440.0 420.8,1358.5 423.2,1440.0 425.6,1361.6 428.0,1440.0 430.4,1344.8 432.8,1440.0 435.2,1332.5 437.6,1440.0 440.0,1354.5 442.4,1440.0 444.8,1348.0 447.2,1440.0 449.6,1347.4 452.0,1440.0 454.4,1347.9 456.8,1440.0 459.2,1347.2 461.6,1440.0 464.0,1347.5 466.4,1440.0 468.8,1365.5 471.2,1440.0 473.6,1355.0 476.0,1440.0 478.4,1357.7 480.8,1440.0 483.2,1351.1 485.6,1440.0 488.0,1358.4 490.4,1440.0 492.8,1358.4 495.2,1440.0 497.6,1365.1 500.0,1440.0 502.4,1324.6 504.8,1440.0 507.2,1349.4 509.6,1440.0 512.0,1354.8 514.4,1440.0 516.8,1359.6 519.2,1440.0 521.6,1353.0 524.0,1440.0 526.4,1368.4 528.8,1440.0 531.2,1350.0 533.6,1440.0 536.0,1350.6 538.4,1440.0 540.8,1350.9 543.2,1440.0 545.6,1360.7 548.0,1440.0 550.4,1327.5 552.8,1440.0 555.2,1355.0 557.6,1440.0 560.0,1356.6 562.4,1440.0 564.8,1350.6 567.2,1440.0 569.6,1363.7 572.0,1440.0 574.4,1347.2 576.8,1440.0 579.2,1357.9 581.6,1440.0 584.0,1352.6 586.4,1440.0 588.8,1356.3 591.2,1440.0 593.6,1335.5 596.0,1440.0 598.4,1356.9 600.8,1440.0 603.2,1344.9 605.6,1440.0 608.0,1358.7 610.4,1440.0 612.8,1357.1 615.2,1440.0 617.6,1345.7 620.0,1440.0 622.4,1357.8 624.8,1440.0 627.2,1356.5 629.6,1440.0 632.0,1352.2 634.4,1440.0 636.8,1355.1 639.2,1440.0 641.6,1348.5 644.0,1440.0 646.4,1364.7 648.8,1440.0 651.2,1352.2 653.6,1440.0 656.0,1349.2 658.4,1440.0 660.8,1360.4 663.2,1440.0 665.6,1353.1 668.0,1440.0 670.4,1352.0 672.8,1440.0 675.2,1352.4 677.6,1440.0 680.0,1356.2 682.4,1440.0 684.8,1324.9 687.2,1440.0 689.6,1354.6 692.0,1440.0 694.4,1342.3 696.8,1440.0 699.2,1351.7 701.6,1440.0 704.0,1353.4 706.4,1440.0 708.8,1340.9 711.2,1440.0 713.6,1336.0 716.0,1440.0 718.4,1319.9 720.8,1440.0 723.2,1320.4 725.6,1440.0 728.0,1324.9 730.4,1420.4 732.8,1320.2 735.2,1402.9 737.6,1308.9 740.0,1383.8 742.4,1295.3 744.8,1369.1 747.2,1291.8 749.6,1339.7 752.0,1296.4 754.4,1321.0 756.8,1281.5 759.2,1301.5 761.6,1265.9 764.0,1280.5 766.4,1248.8 768.8,1261.4 771.2,1235.5 773.6,1246.2 776.0,1219.3 778.4,1224.2 780.8,1211.6 783.2,1211.9 785.6,1198.8 788.0,1207.2 790.4,1186.9 792.8,1186.7 795.2,1177.5 797.6,1173.3 800.0,1157.8 802.4,1158.9 804.8,1144.1 807.2,1141.6 809.6,1125.4 812.0,1124.4 814.4,1118.8 816.8,1112.1 819.2,1097.5 821.6,1096.5 824.0,1088.5 826.4,1083.4 828.8,1074.9 831.2,1070.2 833.6,1056.6 836.0,1054.6 838.4,1042.7 840.8,1037.1 843.2,1032.9 845.6,1020.0 848.0,1010.7 850.4,1010.0 852.8,1000.1 855.2,991.9 857.6,984.7 860.0,986.6 862.4,975.9 864.8,966.6 867.2,957.9 869.6,950.0 872.0,944.9 874.4,936.8 876.8,933.2 879.2,927.7 881.6,916.5 884.0,912.6 886.4,899.6 888.8,891.2 891.2,886.6 893.6,876.7 896.0,869.5 898.4,858.4 900.8,850.2 903.2,844.6 905.6,840.9 908.0,837.5 910.4,826.2 912.8,819.3 915.2,811.3 917.6,806.3 920.0,791.8 922.4,789.8 924.8,779.2 927.2,768.4 929.6,762.7 932.0,758.0 934.4,745.8 936.8,740.3 939.2,725.6 941.6,719.1 944.0,715.0 946.4,708.9 948.8,701.5 951.2,685.7 953.6,680.7 956.0,674.7 958.4,660.1 960.8,652.7 963.2,649.2 965.6,636.8 968.0,623.9 970.4,621.8 972.8,611.0 975.2,594.9 977.6,592.1 980.0,580.9 982.4,570.9 984.8,557.8 987.2,545.3 989.6,542.9 992.0,530.4 994.4,521.5 996.8,503.5 999.2,491.1 1001.6,481.5 1004.0,464.6 1006.4,455.0 1008.8,433.8 1011.2,421.3 1013.6,408.1 1016.0,396.3 1018.4,394.4 1020.8,385.0 1023.2,383.9 1025.6,371.2 1028.0,372.3 1030.4,371.0 1032.8,369.6 1035.2,366.2 1037.6,369.5 1040.0,373.0 1042.4,387.2 1044.8,391.5 1047.2,411.1 1049.6,419.3 1052.0,420.8 1054.4,437.2 1056.8,447.4 1059.2,454.2 1061.6,468.9 1064.0,469.9 1066.4,479.8 1068.8,488.1 1071.2,493.2 1073.6,503.1 1076.0,514.9 1078.4,518.5 1080.8,528.9 1083.2,530.2 1085.6,540.6 1088.0,542.5 1090.4,547.9 1092.8,556.5 1095.2,567.9 1097.6,569.7 1100.0,575.8 1102.4,586.5 1104.8,589.7 1107.2,597.7 1109.6,597.8 1112.0,605.0 1114.4,614.5 1116.8,623.5 1119.2,627.3 1121.6,628.8 1124.0,643.7 1126.4,646.4 1128.8,649.6 1131.2,655.0 1133.6,667.1 1136.0,667.4 1138.4,675.9 1140.8,682.5 1143.2,682.1 1145.6,690.3 1148.0,699.7 1150.4,699.2 1152.8,714.7 1155.2,720.6 1157.6,720.9 1160.0,726.7 1162.4,736.8 1164.8,739.9 1167.2,746.2 1169.6,749.1 1172.0,754.0 1174.4,764.9 1176.8,762.2 1179.2,773.0 1181.6,773.3 1184.0,784.2 1186.4,790.3 1188.8,793.6 1191.2,792.6 1193.6,808.5 1196.0,812.5 1198.4,816.0 1200.8,821.7 1203.2,823.4 1205.6,834.5 1208.0,836.7 1210.4,840.5 1212.8,846.6 1215.2,855.7 1217.6,852.1 1220.0,862.1 1222.4,862.7 1224.8,872.2 1227.2,878.2 1229.6,878.5 1232.0,890.3 1234.4,890.4 1236.8,890.1 1239.2,905.1 1241.6,908.2 1244.0,914.0 1246.4,912.8 1248.8,915.0 1251.2,922.9 1253.6,924.6 1256.0,935.3 1258.4,937.9 1260.8,943.5 1263.2,944.0 1265.6,952.1 1268.0,958.4 1270.4,961.8 1272.8,968.8 1275.2,971.5 1277.6,977.5 1280.0,982.4 1282.4,986.2 1284.8,993.6 1287.2,993.2 1289.6,998.0 1292.0,1001.0 1294.4,1007.1 1296.8,1016.6 1299.2,1017.4 1301.6,1027.7 1304.0,1025.7 1306.4,1036.3 1308.8,1036.7 1311.2,1045.8 1313.6,1042.6 1316.0,1049.4 1318.4,1057.8 1320.8,1062.1 1323.2,1061.5 1325.6,1073.5 1328.0,1072.2 1330.4,1080.0 1332.8,1079.5 1335.2,1094.8 1337.6,1092.0 1340.0,1105.8 1342.4,1099.7 1344.8,1114.9 1347.2,1110.2 1349.6,1119.9 1352.0,1116.0 1354.4,1129.1 1356.8,1124.4 1359.2,1142.4 1361.6,1137.2 1364.0,1145.9 1366.4,1144.3 1368.8,1154.3 1371.2,1158.9 1373.6,1169.4 1376.0,1157.3 1378.4,1172.4 1380.8,1173.0 1383.2,1179.5 1385.6,1176.3 1388.0,1195.1 1390.4,1180.8 1392.8,1202.5 1395.2,1195.7 1397.6,1202.4 1400.0,1196.3 1402.4,1212.7 1404.8,1198.6 1407.2,1219.2 1409.6,1210.6 1412.0,1226.4 1414.4,1218.3 1416.8,1235.2 1419.2,1215.4 1421.6,1237.6 1424.0,1220.5 1426.4,1245.1 1428.8,1235.9 1431.2,1259.4 1433.6,1232.3 1436.0,1258.1 1438.4,1241.6 1440.8,1271.9 1443.2,1246.1 1445.6,1273.5 1448.0,1247.2 1450.4,1277.2 1452.8,1255.3 1455.2,1290.9 1457.6,1263.4 1460.0,1290.3 1462.4,1268.6 1464.8,1296.0 1467.2,1269.3 1469.6,1308.4 1472.0,1270.3 1474.4,1316.5 1476.8,1280.9 1479.2,1315.4 1481.6,1281.3 1484.0,1320.3 1486.4,1290.3 1488.8,1330.6 1491.2,1282.6 1493.6,1342.3 1496.0,1291.0 1498.4,1341.8 1500.8,1296.7 1503.2,1348.4 1505.6,1302.6 1508.0,1355.1 1510.4,1302.3 1512.8,1362.7 1515.2,1300.7 1517.6,1363.3 1520.0,1309.5 1522.4,1375.6 1524.8,1316.7 1527.2,1375.8 1529.6,1304.5 1532.0,1382.8 1534.4,1311.2 1536.8,1394.7 1539.2,1320.9 1541.6,1394.1 1544.0,1318.9 1546.4,1401.0 1548.8,1323.9 1551.2,1406.4 1553.6,1336.5 1556.0,1417.0 1558.4,1336.9 1560.8,1428.1 1563.2,1333.9 1565.6,1426.4 1568.0,1344.4 1570.4,1432.8 1572.8,1351.3 1575.2,1438.6 1577.6,1341.1 1580.0,1440.0 1582.4,1354.7 1584.8,1440.0 1587.2,1356.7 1589.6,1440.0 1592.0,1358.5 1594.4,1440.0 1596.8,1368.0 1599.2,1440.0 1601.6,1373.0 1604.0,1440.0 1606.4,1375.3 1608.8,1440.0 1611.2,1379.3 1613.6,1440.0 1616.0,1373.5 1618.4,1440.0 1620.8,1382.3 1623.2,1440.0 1625.6,1390.9 1628.0,1440.0 1630.4,1387.0 1632.8,1440.0 1635.2,1383.8 1637.6,1440.0 1640.0,1379.6 1642.4,1440.0 1644.8,1374.4 1647.2,1440.0 1649.6,1377.7 1652.0,1440.0 1654.4,1373.1 1656.8,1440.0 1659.2,1382.6 1661.6,1440.0 1664.0,1387.4 1666.4,1440.0 1668.8,1398.7 1671.2,1440.0 1673.6,1388.9 1676.0,1440.0 1678.4,1392.5 1680.8,1440.0 1683.2,1400.4 1685.6,1440.0 1688.0,1394.3 1690.4,1440.0 1692.8,1368.7 1695.2,1440.0 1697.6,1396.3 1700.0,1440.0 1702.4,1371.6 1704.8,1440.0 1707.2,1388.3 1709.6,1440.0 1712.0,1403.4 1714.4,1440.0 1716.8,1397.6 1719.2,1440.0 1721.6,1399.9 1724.0,1440.0 1726.4,1397.7 1728.8,1440.0 1731.2,1404.7 1733.6,1440.0 1736.0,1408.4 1738.4,1440.0 1740.8,1398.8 1743.2,1440.0 1745.6,1399.1 1748.0,1440.0 1750.4,1405.4 1752.8,1440.0 1755.2,1400.5 1757.6,1440.0 1760.0,1375.4 1762.4,1440.0 1764.8,1412.7 1767.2,1440.0 1769.6,1395.2 1772.0,1440.0 1774.4,1393.7 1776.8,1440.0 1779.2,1401.7 1781.6,1440.0 1784.0,1399.2 1786.4,1440.0 1788.8,1416.5 1791.2,1440.0 1793.6,1400.8 1796.0,1440.0 1798.4,1406.3 1800.8,1440.0 1803.2,1405.4 1805.6,1440.0 1808.0,1400.7 1810.4,1440.0 1812.8,1400.7 1815.2,1440.0 1817.6,1400.2 1820.0,1440.0 1822.4,1402.6 1824.8,1440.0 1827.2,1369.4 1829.6,1440.0 1832.0,1389.7 1834.4,1440.0 1836.8,1381.0 1839.2,1440.0 1841.6,1393.9 1844.0,1440.0 1846.4,1387.9 1848.8,1440.0 1851.2,1386.4 1853.6,1440.0 1856.0,1388.2 1858.4,1440.0 1860.8,1378.7 1863.2,1440.0 1865.6,1405.8 1868.0,1440.0 1870.4,1397.6 1872.8,1440.0 1875.2,1402.2 1877.6,1440.0 1880.0,1404.8 1882.4,1440.0 1884.8,1400.1 1887.2,1440.0 1889.6,1399.4 1892.0,1440.0 1894.4,1398.7 1896.8,1440.0 1899.2,1397.4 1901.6,1440.0 1904.0,1391.0 1906.4,1440.0 1908.8,1393.7 1911.2,1440.0 1913.6,1396.1 1916.0,1440.0 1918.4,1393.4 1920.8,1440.0 1923.2,1398.6 1925.6,1440.0 1928.0,1399.3 1930.4,1440.0 1932.8,1401.2 1935.2,1440.0 1937.6,1400.6 1940.0,1440.0 1942.4,1401.0 1944.8,1440.0 1947.2,1394.4 1949.6,1440.0 1952.0,1402.8 1954.4,1440.0 1956.8,1401.0 1959.2,1440.0 1961.6,1406.2 1964.0,1440.0 1966.4,1409.3 1968.8,1440.0 1971.2,1410.9 1973.6,1440.0 1976.0,1417.4 1978.4,1440.0 1980.8,1372.4 1983.2,1440.0 1985.6,1374.4 1988.0,1440.0 1990.4,1406.5 1992.8,1440.0 1995.2,1403.2 1997.6,1440.0 2000.0,1394.2 2002.4,1440.0 2004.8,1409.0 2007.2,1440.0 2009.6,1406.5 2012.0,1440.0 2014.4,1402.8 2016.8,1440.0 2019.2,1394.5 2021.6,1440.0 2024.0,1401.2 2026.4,1440.0 2028.8,1395.9 2031.2,1440.0 2033.6,1402.0 2036.0,1440.0 2038.4,1398.4 2040.8,1440.0 2043.2,1395.3 2045.6,1440.0 2048.0,1383.6 2050.4,1440.0 2052.8,1394.4 2055.2,1440.0 2057.6,1386.8 2060.0,1440.0 2062.4,1392.1 2064.8,1440.0 2067.2,1392.9 2069.6,1440.0 2072.0,1381.7 2074.4,1440.0 2076.8,1397.6 2079.2,1440.0 2081.6,1383.6 2084.0,1440.0 2086.4,1390.6 2088.8,1440.0 2091.2,1393.5 2093.6,1440.0 2096.0,1394.5 2098.4,1440.0 2100.8,1393.5 2103.2,1440.0 2105.6,1395.6 2108.0,1440.0 2110.4,1395.7 2112.8,1440.0 2115.2,1391.0 2117.6,1440.0 2120.0,1389.4 2122.4,1440.0" stroke="#ff00ff"/>
</g>
<g class="t" font-size="96">
<text x="201" y="115">0</text>
<text x="131" y="531.3">−25</text>
<text x="119" y="1011.5">−50</text>
<text x="119" y="1441">−75</text>
</g>
<g class="t" font-size="96" letter-spacing="-1.7">
<text x="212.5" y="1546">1000</text>
<text x="664.4" y="1546">1050</text>
<text x="1116.2" y="1546">1100</text>
<text x="1568.1" y="1546">1150</text>
<text x="2020.0" y="1546">1200</text>
</g>
<g class="t" font-size="103">
<text x="827" y="1635">Wavelength (nm)</text>
</g>
<g class="t" font-size="103.4">
<text transform="translate(118,1052) rotate(-90)">Intensity (dB)</text>
</g>
<g stroke-width="14" stroke-linecap="round">
<line x1="357" y1="135" x2="505" y2="135" stroke="#ff00ff"/>
<line x1="357" y1="233" x2="505" y2="233" stroke="#00ffff"/>
<line x1="357" y1="331" x2="505" y2="331" stroke="#0000ff"/>
<line x1="357" y1="429" x2="505" y2="429" stroke="#00ff00"/>
<line x1="357" y1="527" x2="505" y2="527" stroke="#000000"/>
</g>
<g class="t" font-size="79.6">
<text x="523" y="157.8">14980 W</text>
<text x="523" y="255.5">13220 W</text>
<text x="523" y="353.2">11740 W</text>
<text x="523" y="450.9">9490 W</text>
<text x="523" y="548.6">7250 W</text>
</g>
</svg>
</body></html>
